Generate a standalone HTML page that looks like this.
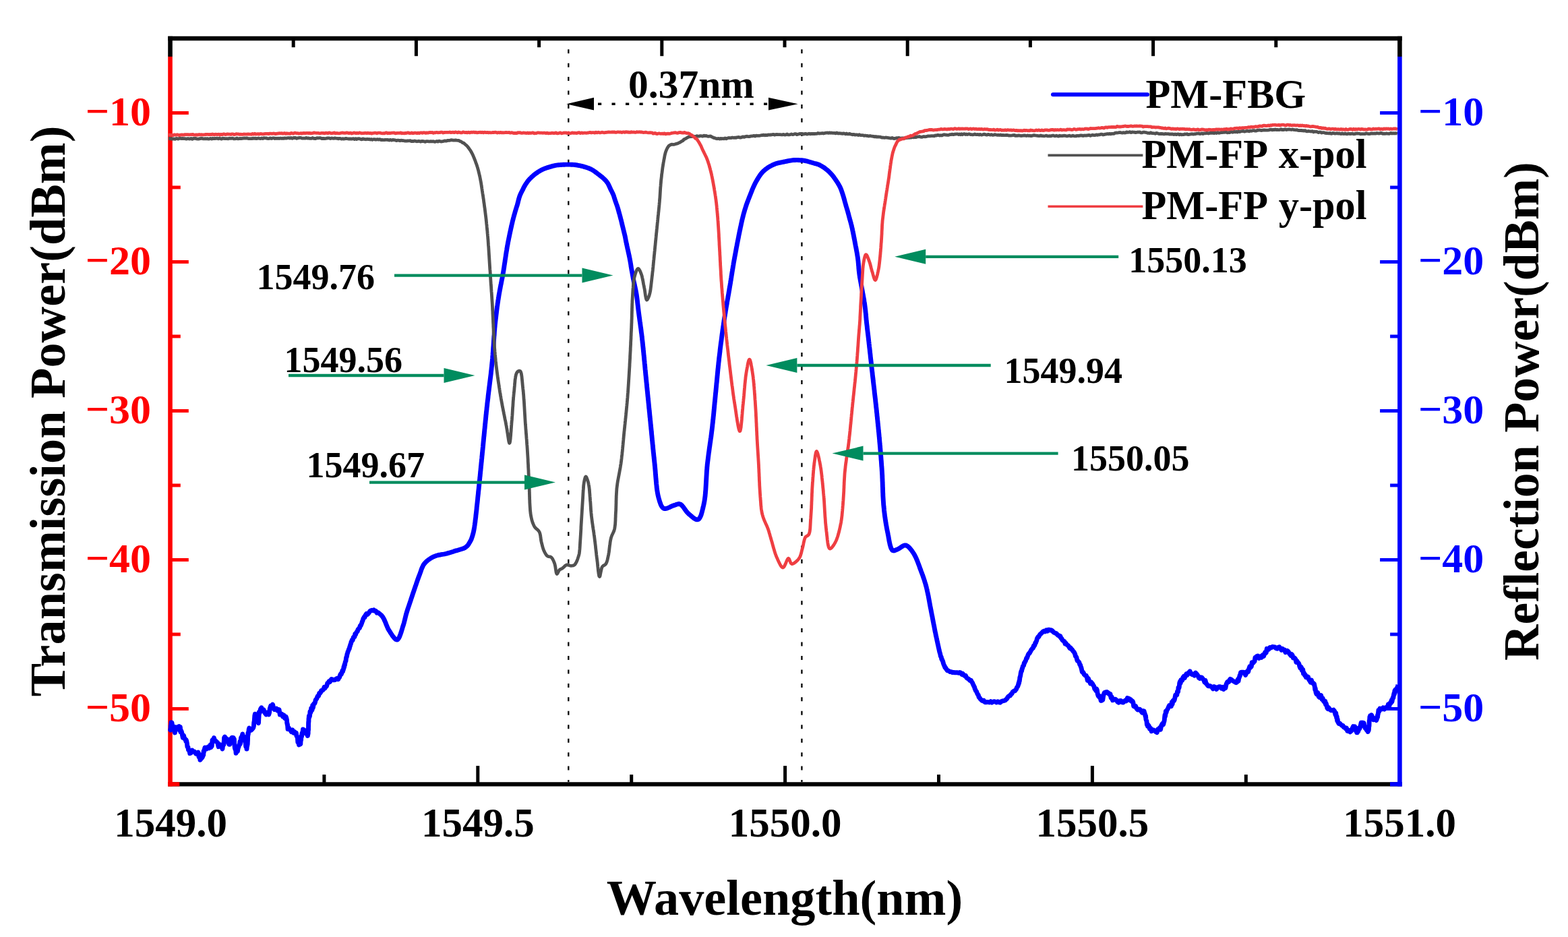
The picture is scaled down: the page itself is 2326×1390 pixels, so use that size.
<!DOCTYPE html><html><head><meta charset="utf-8"><style>html,body{margin:0;padding:0;background:#fff;overflow:hidden;}svg{display:block;}text{font-family:"Liberation Serif","Times New Roman",serif;font-weight:bold;}</style></head><body>
<svg width="2326" height="1390" viewBox="0 0 2326 1390">
<rect width="2326" height="1390" fill="#fff"/>
<line x1="843.3" y1="73.2" x2="843.3" y2="1160.0" stroke="#000" stroke-width="2.3" stroke-dasharray="6 14.45"/>
<line x1="1189.4" y1="73.2" x2="1189.4" y2="1160.0" stroke="#000" stroke-width="2.3" stroke-dasharray="6 14.45"/>
<g stroke-linecap="butt">
<line x1="480.9" y1="1163.3" x2="480.9" y2="1149.1" stroke="#000" stroke-width="5"/>
<line x1="708.8" y1="1163.3" x2="708.8" y2="1136.1" stroke="#000" stroke-width="5"/>
<line x1="936.7" y1="1163.3" x2="936.7" y2="1149.1" stroke="#000" stroke-width="5"/>
<line x1="1164.6" y1="1163.3" x2="1164.6" y2="1136.1" stroke="#000" stroke-width="5"/>
<line x1="1392.5" y1="1163.3" x2="1392.5" y2="1149.1" stroke="#000" stroke-width="5"/>
<line x1="1620.4" y1="1163.3" x2="1620.4" y2="1136.1" stroke="#000" stroke-width="5"/>
<line x1="1848.3" y1="1163.3" x2="1848.3" y2="1149.1" stroke="#000" stroke-width="5"/>
<line x1="435.2" y1="57.0" x2="435.2" y2="70.2" stroke="#000" stroke-width="5"/>
<line x1="617.4" y1="57.0" x2="617.4" y2="83.2" stroke="#000" stroke-width="5"/>
<line x1="799.6" y1="57.0" x2="799.6" y2="70.2" stroke="#000" stroke-width="5"/>
<line x1="981.8" y1="57.0" x2="981.8" y2="83.2" stroke="#000" stroke-width="5"/>
<line x1="1164.0" y1="57.0" x2="1164.0" y2="70.2" stroke="#000" stroke-width="5"/>
<line x1="1346.2" y1="57.0" x2="1346.2" y2="83.2" stroke="#000" stroke-width="5"/>
<line x1="1528.4" y1="57.0" x2="1528.4" y2="70.2" stroke="#000" stroke-width="5"/>
<line x1="1710.6" y1="57.0" x2="1710.6" y2="83.2" stroke="#000" stroke-width="5"/>
<line x1="1892.8" y1="57.0" x2="1892.8" y2="70.2" stroke="#000" stroke-width="5"/>
<line x1="252.5" y1="167.5" x2="279.8" y2="167.5" stroke="#ff0000" stroke-width="5"/>
<line x1="252.5" y1="278.0" x2="267.8" y2="278.0" stroke="#ff0000" stroke-width="5"/>
<line x1="252.5" y1="388.5" x2="279.8" y2="388.5" stroke="#ff0000" stroke-width="5"/>
<line x1="252.5" y1="499.0" x2="267.8" y2="499.0" stroke="#ff0000" stroke-width="5"/>
<line x1="252.5" y1="609.5" x2="279.8" y2="609.5" stroke="#ff0000" stroke-width="5"/>
<line x1="252.5" y1="720.0" x2="267.8" y2="720.0" stroke="#ff0000" stroke-width="5"/>
<line x1="252.5" y1="830.5" x2="279.8" y2="830.5" stroke="#ff0000" stroke-width="5"/>
<line x1="252.5" y1="941.0" x2="267.8" y2="941.0" stroke="#ff0000" stroke-width="5"/>
<line x1="252.5" y1="1051.5" x2="279.8" y2="1051.5" stroke="#ff0000" stroke-width="5"/>
</g>
<line x1="249.2" y1="57.0" x2="2079.7" y2="57.0" stroke="#000" stroke-width="6.5"/>
<line x1="249.2" y1="1163.3" x2="2079.7" y2="1163.3" stroke="#000" stroke-width="6.2"/>
<line x1="252.5" y1="84.0" x2="252.5" y2="1166.4" stroke="#ff0000" stroke-width="6.6"/>
<line x1="249.2" y1="1163.3" x2="266.3" y2="1163.3" stroke="#ff0000" stroke-width="6.2"/>
<line x1="252.5" y1="53.8" x2="252.5" y2="84.0" stroke="#000" stroke-width="6.6"/>
<path d="M252.6 1084.7 L252.8 1081.6 L253.1 1083.1 L253.3 1076.8 L253.5 1078.1 L253.8 1075.2 L254.1 1071.8 L254.4 1074.6 L255.0 1072.2 L255.7 1077.3 L256.5 1076.9 L257.4 1079.0 L258.5 1083.3 L259.4 1087.0 L260.1 1080.6 L260.7 1078.8 L261.6 1079.7 L263.0 1080.9 L264.5 1078.0 L265.5 1077.5 L266.4 1083.3 L267.3 1078.4 L267.9 1085.8 L268.4 1083.5 L268.9 1084.4 L269.5 1086.0 L270.2 1089.0 L271.2 1094.2 L272.4 1090.9 L273.5 1095.1 L274.5 1097.0 L275.2 1096.6 L275.8 1099.6 L276.3 1097.9 L276.8 1099.7 L277.4 1102.6 L277.9 1107.6 L278.4 1107.6 L279.0 1108.7 L279.5 1112.5 L280.1 1113.1 L280.9 1113.3 L281.7 1117.6 L283.2 1117.0 L285.0 1113.0 L286.8 1115.0 L288.6 1115.0 L290.6 1118.2 L292.4 1118.1 L294.0 1116.2 L295.0 1122.8 L295.7 1118.8 L296.4 1123.2 L296.9 1127.4 L297.6 1123.8 L298.3 1125.7 L299.0 1121.2 L299.8 1124.0 L300.5 1122.7 L301.2 1119.5 L301.7 1120.2 L302.1 1114.4 L302.5 1115.4 L302.9 1112.9 L303.4 1111.1 L304.0 1108.9 L304.8 1110.7 L306.4 1111.1 L308.4 1108.1 L310.3 1109.8 L312.0 1105.1 L312.9 1108.7 L313.5 1106.6 L314.1 1107.1 L314.5 1103.8 L315.0 1098.0 L315.6 1097.4 L316.3 1098.8 L317.4 1094.6 L318.6 1099.2 L319.9 1098.9 L321.3 1100.5 L322.7 1101.5 L324.1 1107.7 L325.7 1104.3 L327.3 1106.1 L328.8 1107.6 L330.0 1111.0 L330.7 1104.5 L331.2 1105.7 L331.6 1104.5 L331.9 1104.7 L332.1 1102.0 L332.3 1100.2 L332.6 1094.2 L333.0 1093.9 L333.5 1093.0 L334.3 1097.3 L335.1 1099.3 L336.0 1095.5 L337.0 1097.9 L338.0 1100.4 L338.9 1101.9 L339.8 1104.3 L340.7 1104.4 L341.5 1100.4 L342.3 1096.3 L343.1 1096.9 L343.9 1094.4 L344.7 1094.2 L345.4 1096.3 L345.8 1094.9 L346.3 1094.6 L346.6 1096.6 L347.0 1098.8 L347.4 1096.6 L347.7 1104.6 L348.0 1106.1 L348.3 1109.2 L348.7 1111.0 L349.0 1110.5 L349.4 1112.5 L349.7 1112.3 L350.1 1117.2 L350.5 1114.2 L351.0 1114.6 L351.5 1115.3 L351.9 1114.2 L352.5 1114.3 L353.0 1110.8 L353.6 1108.7 L354.1 1107.7 L354.7 1105.2 L355.3 1104.7 L355.9 1100.1 L356.5 1103.6 L357.1 1099.6 L357.6 1094.4 L358.2 1093.3 L358.8 1092.4 L359.3 1091.4 L359.8 1089.0 L360.3 1093.7 L360.9 1095.0 L361.5 1092.5 L362.0 1094.3 L362.6 1093.5 L363.1 1095.9 L363.7 1099.8 L364.2 1101.4 L364.7 1107.3 L365.1 1104.3 L365.6 1104.4 L366.0 1111.1 L366.3 1107.9 L366.6 1104.6 L366.8 1106.2 L366.9 1101.3 L367.1 1103.0 L367.2 1104.2 L367.3 1101.3 L367.5 1098.0 L367.6 1092.8 L367.8 1091.3 L367.9 1087.8 L368.2 1089.8 L368.5 1086.3 L368.8 1086.3 L369.2 1081.9 L369.7 1080.1 L371.0 1082.9 L372.5 1083.3 L374.0 1081.8 L375.3 1080.3 L375.9 1079.1 L376.4 1076.9 L376.8 1071.4 L377.1 1071.1 L377.4 1067.7 L377.7 1063.2 L377.9 1061.0 L378.1 1060.8 L378.4 1059.2 L378.7 1061.2 L379.0 1062.6 L379.5 1059.7 L379.9 1064.5 L380.4 1067.0 L380.9 1069.1 L381.4 1067.5 L381.9 1068.7 L382.4 1070.2 L382.8 1070.5 L383.1 1070.3 L383.3 1072.2 L383.5 1072.7 L383.6 1070.5 L383.8 1066.1 L383.9 1065.1 L384.0 1063.8 L384.2 1056.7 L384.5 1058.4 L384.8 1058.2 L385.3 1055.8 L385.8 1054.4 L386.5 1051.9 L387.8 1049.8 L389.3 1054.7 L391.1 1052.9 L392.9 1057.5 L394.7 1059.9 L396.3 1056.9 L397.7 1057.0 L398.7 1059.9 L399.6 1056.9 L400.3 1051.2 L401.0 1048.9 L401.7 1047.1 L402.4 1050.8 L403.4 1049.5 L404.5 1045.1 L405.8 1050.4 L407.1 1052.6 L408.5 1051.7 L409.9 1051.1 L411.3 1053.9 L412.7 1052.4 L414.0 1052.6 L415.3 1060.1 L416.7 1059.0 L418.1 1059.2 L419.5 1063.0 L420.8 1060.8 L422.0 1064.9 L423.1 1065.9 L424.0 1063.0 L424.7 1064.8 L425.2 1066.8 L425.5 1068.2 L425.7 1072.4 L425.9 1072.0 L426.2 1074.9 L426.5 1074.7 L427.0 1081.5 L427.7 1079.0 L429.0 1081.0 L430.5 1082.7 L432.2 1085.6 L433.9 1083.0 L435.6 1087.3 L437.0 1085.7 L437.8 1087.2 L438.6 1088.7 L439.3 1087.1 L440.0 1092.0 L440.7 1092.4 L441.3 1093.3 L441.8 1100.7 L442.4 1098.3 L442.9 1101.9 L443.5 1104.9 L444.0 1104.5 L444.5 1103.2 L445.0 1104.2 L445.4 1103.5 L445.8 1103.7 L446.1 1097.3 L446.5 1098.3 L446.8 1094.0 L447.2 1091.8 L447.5 1092.8 L447.8 1088.8 L448.2 1087.1 L448.6 1086.6 L449.0 1086.2 L449.5 1082.0 L450.0 1082.8 L451.1 1082.7 L452.3 1084.7 L453.5 1088.2 L454.7 1088.5 L455.7 1089.7 L456.1 1089.1 L456.4 1091.6 L456.7 1089.1 L456.9 1089.1 L457.1 1088.1 L457.2 1081.9 L457.4 1082.2 L457.5 1082.9 L457.5 1080.2 L457.6 1073.3 L457.7 1071.0 L457.9 1071.0 L458.0 1066.3 L458.2 1065.3 L458.4 1062.1 L458.7 1064.2 L459.1 1063.1 L459.5 1062.2 L460.0 1055.6 L460.5 1057.8 L461.1 1055.9 L461.7 1050.7 L462.3 1054.2 L463.0 1053.1 L463.7 1046.4 L464.4 1049.8 L465.2 1044.8 L465.9 1043.6 L466.7 1043.6 L467.5 1041.6 L468.3 1038.0 L469.0 1037.5 L469.8 1036.4 L470.5 1034.5 L471.2 1032.8 L471.9 1032.0 L472.6 1032.2 L473.7 1028.3 L474.7 1028.6 L475.7 1026.9 L476.7 1024.3 L477.7 1024.1 L478.8 1023.8 L480.0 1022.0 L481.0 1019.4 L482.1 1020.9 L483.3 1018.8 L484.5 1017.9 L485.7 1013.6 L486.9 1012.7 L488.2 1010.6 L489.4 1011.6 L490.7 1008.9 L491.8 1007.5 L493.0 1007.8 L495.0 1008.8 L496.9 1008.6 L498.8 1006.9 L500.6 1006.1 L501.7 1007.7 L502.7 1005.6 L503.7 1004.7 L504.6 1001.4 L505.5 999.7 L506.3 1000.1 L507.2 997.5 L508.0 994.6 L508.5 996.2 L509.0 993.9 L509.5 993.0 L510.0 989.3 L510.5 990.2 L510.9 986.1 L511.3 987.1 L511.8 984.1 L512.2 982.1 L512.6 981.1 L513.0 980.6 L513.4 976.9 L513.8 974.8 L514.3 974.5 L514.7 972.0 L515.1 970.0 L515.6 968.7 L516.1 966.7 L516.7 965.5 L517.2 964.2 L517.7 962.6 L518.2 962.5 L518.8 959.4 L519.3 958.5 L519.9 955.9 L520.5 954.9 L521.0 952.3 L521.7 951.5 L522.3 949.2 L523.0 949.9 L523.7 947.9 L524.4 945.2 L525.2 944.6 L526.0 944.6 L526.8 940.4 L527.6 941.2 L528.5 938.5 L529.3 937.2 L530.2 936.8 L531.0 934.0 L531.9 932.9 L532.7 932.0 L533.5 931.5 L534.3 928.1 L535.1 928.2 L535.9 926.2 L536.6 924.5 L537.3 922.2 L538.1 920.5 L538.8 918.0 L539.5 916.8 L540.3 915.2 L541.0 916.0 L541.9 913.2 L542.7 911.8 L543.6 910.5 L544.8 911.6 L546.1 910.5 L547.4 908.8 L548.8 906.6 L550.2 905.7 L551.6 905.3 L553.1 905.7 L554.5 904.8 L555.9 906.1 L557.4 906.1 L559.0 909.1 L560.5 908.5 L562.0 909.6 L563.5 910.8 L564.9 912.0 L566.2 913.3 L567.1 914.4 L568.0 915.6 L568.8 917.0 L569.6 918.4 L570.3 920.0 L571.0 921.6 L571.7 923.2 L572.4 924.9 L573.0 926.6 L573.7 928.2 L574.4 929.9 L575.1 931.4 L575.8 933.0 L576.6 934.4 L577.4 935.7 L578.4 937.2 L579.4 938.8 L580.5 940.5 L581.6 942.2 L582.7 943.8 L583.9 945.2 L585.0 946.6 L586.0 947.6 L587.1 948.5 L588.1 948.9 L589.0 949.0 L589.8 948.7 L590.6 947.9 L591.4 946.9 L592.1 945.6 L592.9 944.0 L593.5 942.2 L594.2 940.4 L594.9 938.4 L595.5 936.4 L596.1 934.4 L596.7 932.5 L597.2 930.6 L597.8 929.0 L598.3 927.4 L598.8 925.8 L599.3 924.1 L599.7 922.5 L600.1 920.9 L600.5 919.3 L600.9 917.6 L601.3 916.0 L601.7 914.4 L602.1 912.7 L602.5 911.1 L603.0 909.5 L603.5 907.9 L604.0 906.2 L604.5 904.6 L605.0 903.0 L605.6 901.4 L606.1 899.7 L606.7 898.1 L607.2 896.5 L607.8 894.9 L608.3 893.2 L608.9 891.6 L609.4 890.0 L609.9 888.4 L610.5 886.8 L611.0 885.2 L611.6 883.5 L612.1 881.9 L612.6 880.3 L613.2 878.7 L613.7 877.1 L614.3 875.5 L614.8 873.9 L615.4 872.3 L615.9 870.7 L616.4 869.2 L617.0 867.6 L617.5 866.1 L618.0 864.5 L618.6 863.0 L619.1 861.5 L619.6 859.9 L620.2 858.4 L620.7 856.9 L621.3 855.4 L621.8 854.0 L622.4 852.5 L623.0 850.9 L623.6 849.2 L624.2 847.6 L624.7 845.9 L625.3 844.3 L625.9 842.7 L626.6 841.2 L627.3 839.7 L628.0 838.3 L628.9 837.0 L630.0 835.6 L631.2 834.3 L632.4 833.1 L633.8 831.9 L635.1 830.8 L636.5 829.8 L637.9 828.9 L639.2 828.0 L640.7 827.1 L642.1 826.4 L643.6 825.7 L645.1 825.1 L646.7 824.5 L648.3 824.0 L649.8 823.6 L651.3 823.2 L653.0 823.0 L654.6 822.7 L656.3 822.4 L657.9 822.2 L659.6 821.9 L661.2 821.5 L662.8 821.1 L664.4 820.6 L666.0 820.2 L667.6 819.7 L669.2 819.2 L670.8 818.7 L672.5 818.2 L674.2 817.6 L675.7 817.1 L677.3 816.7 L678.9 816.3 L680.6 815.8 L682.2 815.3 L683.9 814.8 L685.5 814.3 L687.0 813.8 L688.5 813.1 L689.8 812.5 L691.0 811.7 L692.4 810.5 L693.7 809.2 L694.8 807.8 L695.7 806.3 L696.6 804.8 L697.5 803.3 L698.3 801.7 L699.1 800.1 L699.7 798.4 L700.3 796.6 L700.9 794.8 L701.4 793.0 L701.8 791.5 L702.2 790.1 L702.5 788.7 L702.8 787.2 L703.1 785.6 L703.4 783.9 L703.7 782.1 L704.0 780.0 L704.2 778.9 L704.3 777.7 L704.5 776.5 L704.7 775.2 L704.9 773.9 L705.0 772.5 L705.2 771.1 L705.4 769.6 L705.6 768.1 L705.8 766.5 L705.9 764.9 L706.1 763.3 L706.3 761.6 L706.5 759.9 L706.7 758.2 L706.9 756.5 L707.1 754.7 L707.2 752.9 L707.4 751.2 L707.6 749.4 L707.8 747.6 L708.0 745.8 L708.2 744.0 L708.4 742.2 L708.6 740.4 L708.7 738.6 L708.9 736.8 L709.1 735.0 L709.3 733.3 L709.5 731.5 L709.6 729.8 L709.8 728.2 L710.0 726.5 L710.2 724.9 L710.3 723.3 L710.5 721.6 L710.7 720.0 L710.8 718.4 L711.0 716.8 L711.2 715.2 L711.3 713.6 L711.5 712.0 L711.7 710.4 L711.8 708.7 L712.0 707.1 L712.2 705.5 L712.3 703.9 L712.5 702.3 L712.6 700.7 L712.8 699.0 L713.0 697.4 L713.1 695.8 L713.3 694.2 L713.4 692.5 L713.6 690.9 L713.8 689.2 L713.9 687.6 L714.1 685.9 L714.3 684.3 L714.4 682.6 L714.6 681.0 L714.8 679.3 L714.9 677.6 L715.1 675.9 L715.3 674.2 L715.4 672.5 L715.6 670.8 L715.8 669.3 L715.9 667.7 L716.1 666.2 L716.2 664.7 L716.4 663.1 L716.5 661.6 L716.7 660.0 L716.8 658.4 L717.0 656.8 L717.1 655.3 L717.3 653.7 L717.4 652.1 L717.6 650.5 L717.7 648.9 L717.9 647.3 L718.1 645.7 L718.2 644.1 L718.4 642.5 L718.5 640.9 L718.7 639.3 L718.8 637.7 L719.0 636.1 L719.2 634.4 L719.3 632.8 L719.5 631.2 L719.6 629.6 L719.8 628.0 L720.0 626.4 L720.1 624.7 L720.3 623.1 L720.5 621.5 L720.6 619.9 L720.8 618.3 L720.9 616.6 L721.1 615.0 L721.3 613.4 L721.4 611.8 L721.6 610.2 L721.8 608.6 L722.0 607.0 L722.1 605.4 L722.3 603.8 L722.5 602.2 L722.7 600.6 L722.8 599.0 L723.0 597.4 L723.2 595.8 L723.4 594.2 L723.6 592.6 L723.8 591.0 L724.0 589.4 L724.1 587.7 L724.3 586.1 L724.5 584.5 L724.7 582.9 L724.9 581.3 L725.1 579.7 L725.3 578.1 L725.5 576.4 L725.7 574.8 L725.9 573.2 L726.1 571.6 L726.3 570.0 L726.5 568.4 L726.7 566.8 L726.9 565.2 L727.1 563.6 L727.3 562.0 L727.5 560.4 L727.7 558.8 L727.9 557.2 L728.1 555.6 L728.3 554.0 L728.4 552.5 L728.6 550.9 L728.8 549.3 L729.0 547.7 L729.1 546.2 L729.3 544.6 L729.5 543.1 L729.6 541.5 L729.8 540.0 L729.9 538.4 L730.1 536.9 L730.3 535.2 L730.4 533.5 L730.6 531.8 L730.7 530.2 L730.8 528.5 L731.0 526.8 L731.1 525.1 L731.2 523.4 L731.4 521.8 L731.5 520.1 L731.6 518.4 L731.7 516.8 L731.8 515.1 L732.0 513.4 L732.1 511.8 L732.2 510.1 L732.3 508.5 L732.4 506.9 L732.5 505.2 L732.6 503.6 L732.7 502.0 L732.8 500.4 L732.9 498.8 L733.1 497.2 L733.2 495.6 L733.3 494.0 L733.4 492.4 L733.5 490.9 L733.7 489.3 L733.8 487.8 L733.9 486.2 L734.1 484.7 L734.2 483.2 L734.3 481.7 L734.5 480.2 L734.7 478.4 L734.9 476.7 L735.1 474.9 L735.3 473.2 L735.5 471.5 L735.7 469.8 L735.9 468.1 L736.1 466.4 L736.3 464.8 L736.5 463.1 L736.7 461.4 L736.9 459.8 L737.1 458.2 L737.3 456.6 L737.5 454.9 L737.8 453.3 L738.0 451.7 L738.2 450.1 L738.5 448.6 L738.7 447.0 L738.9 445.4 L739.2 443.8 L739.4 442.2 L739.7 440.7 L739.9 439.1 L740.2 437.4 L740.5 435.7 L740.8 434.0 L741.1 432.4 L741.4 430.7 L741.7 429.1 L742.0 427.5 L742.3 425.9 L742.6 424.3 L742.9 422.6 L743.3 421.0 L743.6 419.4 L743.9 417.8 L744.2 416.2 L744.5 414.6 L744.9 413.0 L745.2 411.3 L745.5 409.7 L745.8 408.0 L746.1 406.3 L746.4 404.6 L746.7 403.1 L746.9 401.6 L747.2 400.0 L747.4 398.5 L747.7 396.9 L747.9 395.3 L748.1 393.7 L748.4 392.1 L748.6 390.5 L748.9 388.9 L749.1 387.3 L749.3 385.7 L749.6 384.1 L749.8 382.5 L750.1 380.9 L750.3 379.3 L750.5 377.7 L750.8 376.1 L751.0 374.5 L751.3 372.9 L751.6 371.3 L751.8 369.7 L752.1 368.1 L752.3 366.6 L752.6 365.0 L752.9 363.5 L753.2 361.9 L753.5 360.2 L753.8 358.5 L754.2 356.8 L754.5 355.2 L754.8 353.5 L755.2 351.8 L755.5 350.1 L755.9 348.4 L756.2 346.7 L756.6 345.1 L756.9 343.4 L757.3 341.8 L757.6 340.2 L758.0 338.6 L758.3 337.0 L758.7 335.5 L759.0 334.0 L759.3 332.6 L759.7 331.2 L760.0 329.8 L760.3 328.5 L760.6 327.2 L761.1 325.4 L761.5 323.6 L762.0 321.9 L762.4 320.3 L762.8 318.8 L763.3 317.3 L763.7 315.8 L764.1 314.4 L764.5 313.0 L764.9 311.7 L765.5 309.8 L766.0 308.1 L766.5 306.5 L767.1 304.8 L767.6 303.0 L768.0 301.5 L768.4 300.0 L768.8 298.3 L769.2 296.7 L769.7 295.0 L770.1 293.4 L770.6 291.9 L771.1 290.4 L771.9 288.5 L772.7 286.8 L773.5 285.1 L774.4 283.4 L775.2 281.8 L776.0 280.3 L776.7 278.7 L777.5 277.2 L778.3 275.8 L779.2 274.3 L780.1 272.8 L781.1 271.4 L782.1 269.9 L783.1 268.5 L784.2 267.2 L785.3 265.9 L786.5 264.7 L787.8 263.5 L789.0 262.3 L790.3 261.2 L791.5 260.1 L792.8 259.1 L794.1 258.1 L795.4 257.1 L796.8 256.1 L798.1 255.2 L799.5 254.3 L800.9 253.5 L802.4 252.6 L803.9 251.8 L805.4 251.1 L807.0 250.4 L808.7 249.8 L810.4 249.2 L812.1 248.6 L813.8 248.1 L815.5 247.6 L817.2 247.1 L818.8 246.6 L820.5 246.2 L822.1 245.8 L823.8 245.4 L825.5 245.1 L827.2 244.9 L828.9 244.7 L830.5 244.6 L832.2 244.5 L833.9 244.4 L835.6 244.3 L837.3 244.2 L839.0 244.1 L840.6 244.1 L842.3 244.1 L844.0 244.1 L845.7 244.1 L847.4 244.2 L849.1 244.3 L850.9 244.4 L852.6 244.5 L854.3 244.7 L856.1 245.0 L857.7 245.3 L859.3 245.6 L860.9 245.9 L862.5 246.3 L864.1 246.7 L865.7 247.1 L867.3 247.6 L869.1 248.1 L870.8 248.7 L872.6 249.3 L874.3 250.0 L876.0 250.7 L877.6 251.5 L879.1 252.4 L880.6 253.3 L882.0 254.3 L883.5 255.4 L884.9 256.4 L886.3 257.5 L887.6 258.5 L888.9 259.4 L890.2 260.4 L891.5 261.4 L892.8 262.4 L894.0 263.5 L895.1 264.5 L896.4 265.7 L897.7 267.0 L898.8 268.2 L899.9 269.6 L901.0 271.0 L901.9 272.4 L902.7 274.0 L903.5 275.6 L904.2 277.3 L905.0 278.9 L905.7 280.5 L906.4 282.0 L907.2 283.4 L907.9 284.9 L908.6 286.4 L909.3 287.8 L909.9 289.3 L910.6 291.1 L911.1 292.8 L911.7 294.6 L912.2 296.4 L912.8 298.1 L913.4 299.7 L913.9 301.1 L914.4 302.6 L915.0 304.2 L915.6 306.0 L916.0 307.3 L916.4 308.7 L916.9 310.2 L917.3 311.8 L917.8 313.4 L918.2 315.1 L918.7 316.7 L919.2 318.4 L919.6 320.0 L920.0 321.5 L920.4 323.0 L920.8 324.7 L921.3 326.3 L921.7 328.0 L922.1 329.6 L922.4 331.1 L922.8 332.7 L923.2 334.3 L923.6 335.9 L924.0 337.5 L924.4 339.1 L924.8 340.8 L925.2 342.4 L925.6 344.0 L926.0 345.6 L926.4 347.3 L926.8 348.9 L927.2 350.5 L927.5 352.1 L927.8 353.7 L928.1 355.3 L928.4 357.0 L928.7 358.6 L929.1 360.2 L929.4 361.8 L929.8 363.4 L930.1 365.0 L930.5 366.7 L930.8 368.3 L931.2 369.9 L931.6 371.6 L931.9 373.2 L932.3 374.8 L932.6 376.4 L933.0 378.0 L933.3 379.7 L933.7 381.3 L934.0 382.9 L934.3 384.5 L934.6 386.1 L934.9 387.7 L935.2 389.5 L935.5 391.2 L935.8 392.9 L936.0 394.6 L936.3 396.4 L936.6 398.2 L936.9 400.0 L937.2 401.5 L937.5 403.1 L937.8 404.7 L938.1 406.4 L938.4 408.0 L938.7 409.7 L939.0 411.4 L939.3 413.1 L939.7 414.8 L940.0 416.5 L940.3 418.1 L940.6 419.6 L941.0 421.2 L941.3 422.7 L941.7 424.3 L942.0 425.9 L942.4 427.5 L942.7 429.2 L943.1 430.8 L943.4 432.5 L943.7 434.2 L944.0 435.9 L944.2 437.4 L944.5 438.9 L944.7 440.4 L944.9 442.0 L945.1 443.5 L945.3 445.1 L945.5 446.7 L945.6 448.3 L945.8 449.9 L946.0 451.5 L946.2 453.2 L946.4 454.9 L946.6 456.6 L946.8 458.3 L947.0 460.0 L947.2 461.8 L947.4 463.3 L947.6 464.7 L947.8 466.2 L948.0 467.7 L948.2 469.2 L948.4 470.7 L948.6 472.2 L948.8 473.7 L949.0 475.3 L949.2 476.8 L949.5 478.4 L949.7 480.0 L949.9 481.6 L950.1 483.2 L950.3 484.9 L950.6 486.5 L950.8 488.2 L951.0 489.8 L951.2 491.5 L951.4 493.3 L951.7 495.0 L951.9 496.7 L952.1 498.5 L952.3 500.3 L952.5 501.7 L952.6 503.2 L952.8 504.7 L953.0 506.2 L953.1 507.7 L953.3 509.3 L953.5 510.8 L953.6 512.4 L953.8 514.0 L954.0 515.6 L954.1 517.2 L954.3 518.8 L954.4 520.4 L954.6 522.1 L954.8 523.7 L954.9 525.4 L955.1 527.0 L955.3 528.7 L955.4 530.4 L955.6 532.1 L955.7 533.7 L955.9 535.4 L956.1 537.1 L956.2 538.8 L956.4 540.5 L956.6 542.2 L956.7 543.9 L956.9 545.6 L957.0 547.3 L957.2 549.0 L957.4 550.7 L957.5 552.4 L957.7 554.0 L957.8 555.7 L958.0 557.4 L958.2 559.0 L958.3 560.7 L958.5 562.3 L958.7 563.9 L958.8 565.6 L959.0 567.2 L959.2 568.8 L959.3 570.4 L959.5 572.1 L959.6 573.7 L959.8 575.3 L960.0 577.0 L960.1 578.6 L960.3 580.2 L960.5 581.9 L960.6 583.5 L960.8 585.1 L960.9 586.7 L961.1 588.4 L961.3 590.0 L961.4 591.6 L961.6 593.3 L961.8 594.9 L961.9 596.5 L962.1 598.1 L962.3 599.8 L962.4 601.4 L962.6 603.0 L962.7 604.7 L962.9 606.3 L963.1 607.9 L963.2 609.5 L963.4 611.2 L963.6 612.8 L963.7 614.4 L963.9 616.1 L964.0 617.7 L964.2 619.3 L964.4 620.9 L964.5 622.6 L964.7 624.2 L964.9 625.8 L965.0 627.5 L965.2 629.1 L965.3 630.7 L965.5 632.4 L965.7 634.0 L965.8 635.7 L966.0 637.3 L966.2 639.0 L966.3 640.6 L966.5 642.3 L966.6 643.9 L966.8 645.6 L967.0 647.2 L967.1 648.9 L967.3 650.5 L967.4 652.2 L967.6 653.8 L967.8 655.5 L967.9 657.1 L968.1 658.8 L968.3 660.4 L968.4 662.0 L968.6 663.7 L968.7 665.3 L968.9 666.9 L969.1 668.5 L969.2 670.2 L969.4 671.8 L969.6 673.4 L969.7 675.0 L969.9 676.6 L970.1 678.2 L970.2 679.8 L970.4 681.4 L970.6 683.0 L970.7 684.5 L970.9 686.1 L971.1 687.8 L971.2 689.5 L971.4 691.2 L971.6 692.9 L971.7 694.6 L971.9 696.4 L972.0 698.1 L972.2 699.9 L972.3 701.7 L972.4 703.4 L972.6 705.2 L972.7 706.9 L972.9 708.7 L973.0 710.4 L973.2 712.2 L973.3 713.9 L973.5 715.6 L973.6 717.3 L973.8 719.0 L974.0 720.6 L974.1 722.2 L974.3 723.8 L974.5 725.4 L974.7 726.9 L974.9 728.4 L975.2 729.8 L975.4 731.3 L975.7 732.6 L975.9 734.0 L976.2 735.2 L976.5 736.5 L976.8 737.7 L977.1 738.8 L977.7 740.9 L978.3 742.9 L978.9 744.9 L979.6 746.8 L980.2 748.5 L981.0 750.1 L981.8 751.5 L982.7 752.7 L983.7 753.6 L984.8 754.3 L986.2 754.6 L987.7 754.5 L989.4 754.1 L991.2 753.4 L993.1 752.6 L994.9 751.7 L996.7 750.8 L998.4 750.1 L1000.0 749.6 L1001.9 749.0 L1003.7 748.3 L1005.4 747.8 L1007.1 747.5 L1008.8 747.8 L1009.9 748.4 L1011.0 749.2 L1012.1 750.4 L1013.2 751.7 L1014.3 753.1 L1015.4 754.7 L1016.5 756.3 L1017.6 757.9 L1018.8 759.4 L1020.0 760.7 L1021.2 761.9 L1022.5 763.1 L1024.0 764.3 L1025.5 765.6 L1027.0 766.9 L1028.5 768.1 L1030.0 769.2 L1031.5 770.0 L1032.8 770.6 L1034.1 770.9 L1035.3 770.7 L1036.2 770.3 L1037.0 769.6 L1037.7 768.7 L1038.4 767.5 L1039.1 766.2 L1039.7 764.8 L1040.3 763.2 L1040.8 761.4 L1041.3 759.6 L1041.8 757.7 L1042.3 755.7 L1042.8 753.7 L1043.2 751.7 L1043.7 749.8 L1044.1 747.8 L1044.4 746.6 L1044.6 745.3 L1044.9 743.9 L1045.1 742.6 L1045.3 741.2 L1045.5 739.7 L1045.7 738.2 L1045.9 736.7 L1046.1 735.2 L1046.2 733.6 L1046.4 732.0 L1046.5 730.4 L1046.6 728.8 L1046.8 727.1 L1046.9 725.4 L1047.0 723.7 L1047.1 722.0 L1047.2 720.3 L1047.3 718.6 L1047.4 716.8 L1047.5 715.1 L1047.6 713.3 L1047.7 711.6 L1047.8 709.8 L1047.9 708.1 L1048.0 706.3 L1048.1 704.6 L1048.2 702.9 L1048.3 701.1 L1048.4 699.4 L1048.5 697.7 L1048.7 696.0 L1048.8 694.4 L1048.9 692.7 L1049.1 691.1 L1049.2 689.5 L1049.4 687.9 L1049.6 686.2 L1049.8 684.6 L1050.0 683.0 L1050.2 681.3 L1050.4 679.7 L1050.6 678.1 L1050.8 676.5 L1051.0 674.8 L1051.2 673.2 L1051.4 671.6 L1051.7 670.0 L1051.9 668.4 L1052.1 666.8 L1052.3 665.2 L1052.5 663.6 L1052.8 662.0 L1053.0 660.4 L1053.2 658.9 L1053.4 657.3 L1053.7 655.7 L1053.9 654.1 L1054.1 652.5 L1054.3 650.9 L1054.6 649.3 L1054.8 647.8 L1055.0 646.2 L1055.2 644.6 L1055.4 643.0 L1055.6 641.4 L1055.8 639.8 L1056.0 638.2 L1056.2 636.6 L1056.4 635.0 L1056.6 633.4 L1056.8 631.8 L1056.9 630.2 L1057.1 628.6 L1057.3 627.0 L1057.5 625.4 L1057.6 623.8 L1057.8 622.2 L1058.0 620.6 L1058.1 619.0 L1058.3 617.4 L1058.5 615.8 L1058.6 614.2 L1058.8 612.6 L1058.9 611.0 L1059.1 609.4 L1059.2 607.8 L1059.4 606.2 L1059.5 604.5 L1059.7 602.9 L1059.8 601.3 L1060.0 599.7 L1060.1 598.1 L1060.3 596.5 L1060.5 594.9 L1060.6 593.3 L1060.8 591.7 L1060.9 590.1 L1061.1 588.5 L1061.2 586.9 L1061.4 585.3 L1061.5 583.7 L1061.7 582.1 L1061.9 580.5 L1062.0 578.9 L1062.2 577.3 L1062.3 575.7 L1062.5 574.1 L1062.6 572.5 L1062.8 570.9 L1062.9 569.3 L1063.1 567.7 L1063.3 566.1 L1063.4 564.5 L1063.6 562.9 L1063.7 561.3 L1063.9 559.7 L1064.0 558.0 L1064.2 556.4 L1064.3 554.8 L1064.5 553.2 L1064.6 551.6 L1064.8 550.0 L1064.9 548.4 L1065.1 546.8 L1065.3 545.2 L1065.4 543.6 L1065.6 542.0 L1065.8 540.4 L1065.9 538.8 L1066.1 537.2 L1066.3 535.6 L1066.5 534.0 L1066.6 532.4 L1066.8 530.8 L1067.0 529.2 L1067.2 527.6 L1067.4 526.0 L1067.6 524.4 L1067.8 522.8 L1068.0 521.2 L1068.1 519.6 L1068.3 518.0 L1068.5 516.4 L1068.7 514.8 L1068.9 513.2 L1069.1 511.6 L1069.3 510.0 L1069.5 508.3 L1069.8 506.7 L1070.0 505.1 L1070.2 503.5 L1070.4 501.9 L1070.6 500.3 L1070.8 498.7 L1071.0 497.1 L1071.2 495.5 L1071.5 493.9 L1071.7 492.3 L1071.9 490.7 L1072.1 489.1 L1072.4 487.5 L1072.6 485.9 L1072.8 484.3 L1073.1 482.7 L1073.3 481.1 L1073.5 479.5 L1073.8 477.9 L1074.0 476.3 L1074.2 474.7 L1074.5 473.1 L1074.7 471.5 L1075.0 469.8 L1075.3 468.2 L1075.5 466.6 L1075.8 465.0 L1076.1 463.3 L1076.3 461.7 L1076.6 460.1 L1076.9 458.4 L1077.1 456.8 L1077.4 455.2 L1077.7 453.5 L1078.0 451.9 L1078.3 450.3 L1078.5 448.7 L1078.8 447.0 L1079.1 445.4 L1079.4 443.8 L1079.7 442.2 L1079.9 440.6 L1080.2 439.0 L1080.5 437.4 L1080.8 435.8 L1081.1 434.2 L1081.3 432.7 L1081.6 431.1 L1081.9 429.5 L1082.1 428.0 L1082.4 426.4 L1082.6 424.9 L1082.9 423.4 L1083.2 421.7 L1083.5 420.0 L1083.7 418.3 L1084.0 416.7 L1084.3 415.1 L1084.5 413.4 L1084.8 411.8 L1085.0 410.2 L1085.3 408.6 L1085.5 407.1 L1085.8 405.5 L1086.0 403.9 L1086.3 402.3 L1086.5 400.7 L1086.8 399.2 L1087.1 397.6 L1087.3 396.0 L1087.6 394.4 L1087.9 392.8 L1088.1 391.2 L1088.4 389.5 L1088.7 387.9 L1089.0 386.2 L1089.3 384.5 L1089.6 382.8 L1089.9 381.1 L1090.2 379.6 L1090.5 378.0 L1090.8 376.5 L1091.1 374.9 L1091.4 373.2 L1091.7 371.6 L1092.0 369.9 L1092.3 368.2 L1092.6 366.5 L1093.0 364.7 L1093.3 363.0 L1093.6 361.2 L1094.0 359.5 L1094.3 357.7 L1094.7 356.0 L1095.0 354.2 L1095.4 352.5 L1095.7 350.7 L1096.0 349.0 L1096.4 347.3 L1096.7 345.6 L1097.1 343.9 L1097.4 342.2 L1097.8 340.6 L1098.1 339.0 L1098.4 337.4 L1098.8 335.9 L1099.1 334.4 L1099.4 332.9 L1099.7 331.5 L1100.0 330.1 L1100.3 328.7 L1100.6 327.4 L1100.9 326.2 L1101.2 325.0 L1101.7 322.9 L1102.2 321.0 L1102.6 319.2 L1103.1 317.5 L1103.5 315.9 L1104.0 314.4 L1104.4 312.8 L1104.8 311.3 L1105.3 309.8 L1105.8 308.3 L1106.3 306.7 L1106.9 305.0 L1107.4 303.3 L1108.0 301.7 L1108.6 300.0 L1109.3 298.4 L1109.9 296.7 L1110.5 295.1 L1111.1 293.5 L1111.8 291.9 L1112.4 290.3 L1113.1 288.6 L1113.7 286.9 L1114.4 285.3 L1115.0 283.6 L1115.7 282.0 L1116.3 280.4 L1117.0 278.8 L1117.7 277.2 L1118.4 275.7 L1119.2 274.0 L1120.0 272.4 L1120.9 270.7 L1121.7 269.2 L1122.6 267.6 L1123.5 266.1 L1124.4 264.6 L1125.3 263.2 L1126.2 261.7 L1127.2 260.3 L1128.1 258.9 L1129.2 257.6 L1130.2 256.3 L1131.3 255.1 L1132.6 253.8 L1134.0 252.6 L1135.4 251.4 L1136.9 250.3 L1138.4 249.2 L1139.9 248.2 L1141.3 247.3 L1142.7 246.5 L1144.1 245.8 L1145.6 245.0 L1147.1 244.3 L1148.6 243.7 L1150.2 243.1 L1151.7 242.6 L1153.3 242.1 L1154.9 241.7 L1156.5 241.3 L1158.2 241.0 L1159.8 240.7 L1161.5 240.3 L1163.1 240.0 L1164.7 239.7 L1166.4 239.3 L1168.0 239.0 L1169.7 238.7 L1171.3 238.4 L1173.0 238.1 L1174.5 237.9 L1176.0 237.7 L1177.8 237.5 L1179.5 237.5 L1181.2 237.4 L1182.8 237.4 L1184.6 237.5 L1186.1 237.6 L1187.7 237.7 L1189.3 237.8 L1191.0 238.0 L1192.6 238.2 L1194.2 238.5 L1195.8 238.8 L1197.6 239.2 L1199.3 239.7 L1201.0 240.2 L1202.8 240.8 L1204.4 241.3 L1206.1 241.8 L1207.9 242.3 L1209.6 242.7 L1211.3 243.1 L1213.0 243.6 L1214.7 244.3 L1216.3 245.0 L1217.9 245.9 L1219.5 246.8 L1221.0 247.8 L1222.6 248.8 L1224.1 249.9 L1225.4 250.9 L1226.7 251.9 L1227.9 253.0 L1229.2 254.1 L1230.4 255.3 L1231.5 256.5 L1232.7 257.7 L1233.7 258.9 L1234.8 260.1 L1235.8 261.4 L1236.8 262.7 L1237.7 264.0 L1238.7 265.3 L1239.6 266.7 L1240.5 268.0 L1241.4 269.4 L1242.4 270.9 L1243.3 272.3 L1244.1 273.8 L1245.0 275.3 L1245.8 276.8 L1246.5 278.3 L1247.2 279.9 L1247.9 281.6 L1248.5 283.3 L1249.1 285.1 L1249.7 286.8 L1250.2 288.6 L1250.8 290.3 L1251.3 292.0 L1251.8 293.7 L1252.3 295.5 L1252.8 297.2 L1253.2 298.9 L1253.7 300.7 L1254.2 302.4 L1254.7 304.2 L1255.2 306.0 L1255.8 307.8 L1256.3 309.6 L1256.8 311.3 L1257.3 312.9 L1257.7 314.4 L1258.2 316.3 L1258.7 318.0 L1259.2 320.0 L1259.5 321.2 L1259.9 322.5 L1260.3 324.0 L1260.7 325.5 L1261.2 327.1 L1261.6 328.7 L1262.1 330.4 L1262.5 332.1 L1263.0 333.9 L1263.4 335.6 L1263.8 337.3 L1264.2 338.8 L1264.5 340.4 L1264.8 342.0 L1265.2 343.6 L1265.5 345.3 L1265.8 346.9 L1266.2 348.6 L1266.5 350.3 L1266.8 351.9 L1267.1 353.6 L1267.5 355.3 L1267.8 357.0 L1268.1 358.6 L1268.4 360.3 L1268.7 361.9 L1269.0 363.6 L1269.3 365.2 L1269.7 366.9 L1270.0 368.5 L1270.3 370.1 L1270.6 371.8 L1270.9 373.4 L1271.2 375.1 L1271.5 376.7 L1271.7 378.4 L1272.0 380.0 L1272.3 381.7 L1272.5 383.3 L1272.7 384.9 L1272.9 386.6 L1273.1 388.2 L1273.2 389.9 L1273.4 391.5 L1273.5 393.2 L1273.7 394.8 L1273.8 396.5 L1273.9 398.2 L1274.1 399.8 L1274.2 401.5 L1274.4 403.1 L1274.6 404.8 L1274.8 406.4 L1275.0 408.0 L1275.3 409.7 L1275.5 411.3 L1275.8 413.0 L1276.1 414.6 L1276.4 416.3 L1276.7 417.9 L1277.0 419.6 L1277.3 421.2 L1277.6 422.8 L1277.9 424.5 L1278.2 426.1 L1278.5 427.8 L1278.8 429.4 L1279.1 431.0 L1279.4 432.7 L1279.7 434.3 L1280.0 435.9 L1280.3 437.5 L1280.6 439.1 L1280.9 440.8 L1281.2 442.4 L1281.5 444.0 L1281.8 445.7 L1282.0 447.3 L1282.3 449.0 L1282.6 450.7 L1282.8 452.4 L1283.0 454.0 L1283.2 455.5 L1283.4 457.1 L1283.6 458.7 L1283.8 460.4 L1283.9 462.0 L1284.1 463.6 L1284.3 465.3 L1284.4 466.9 L1284.6 468.6 L1284.7 470.3 L1284.9 471.9 L1285.0 473.6 L1285.2 475.2 L1285.4 476.9 L1285.5 478.5 L1285.7 480.1 L1285.9 481.8 L1286.1 483.4 L1286.3 485.0 L1286.4 486.6 L1286.6 488.2 L1286.8 489.8 L1287.0 491.4 L1287.2 493.0 L1287.4 494.6 L1287.6 496.3 L1287.8 497.9 L1288.0 499.6 L1288.2 501.3 L1288.4 503.1 L1288.6 504.9 L1288.8 506.7 L1289.0 508.1 L1289.1 509.6 L1289.3 511.1 L1289.5 512.6 L1289.6 514.1 L1289.8 515.7 L1290.0 517.2 L1290.2 518.8 L1290.3 520.4 L1290.5 522.0 L1290.7 523.6 L1290.9 525.3 L1291.1 526.9 L1291.2 528.6 L1291.4 530.2 L1291.6 531.9 L1291.8 533.6 L1292.0 535.3 L1292.2 537.0 L1292.4 538.7 L1292.6 540.4 L1292.7 542.1 L1292.9 543.8 L1293.1 545.6 L1293.3 547.3 L1293.5 549.0 L1293.7 550.7 L1293.9 552.3 L1294.1 553.8 L1294.2 555.4 L1294.4 557.0 L1294.6 558.6 L1294.8 560.2 L1295.0 561.8 L1295.2 563.4 L1295.3 565.1 L1295.5 566.7 L1295.7 568.3 L1295.9 570.0 L1296.1 571.6 L1296.3 573.3 L1296.5 574.9 L1296.7 576.6 L1296.9 578.3 L1297.1 579.9 L1297.2 581.6 L1297.4 583.2 L1297.6 584.9 L1297.8 586.6 L1298.0 588.2 L1298.2 589.9 L1298.4 591.5 L1298.6 593.2 L1298.7 594.8 L1298.9 596.4 L1299.1 598.1 L1299.3 599.7 L1299.5 601.3 L1299.6 602.9 L1299.8 604.5 L1300.0 606.2 L1300.2 607.8 L1300.3 609.5 L1300.5 611.1 L1300.7 612.8 L1300.9 614.4 L1301.0 616.1 L1301.2 617.7 L1301.4 619.4 L1301.5 621.0 L1301.7 622.6 L1301.9 624.3 L1302.0 625.9 L1302.2 627.5 L1302.4 629.2 L1302.5 630.8 L1302.7 632.4 L1302.9 634.0 L1303.0 635.7 L1303.2 637.3 L1303.3 638.9 L1303.5 640.5 L1303.7 642.1 L1303.8 643.7 L1304.0 645.3 L1304.1 647.0 L1304.3 648.6 L1304.4 650.2 L1304.6 651.8 L1304.7 653.4 L1304.8 655.0 L1305.0 656.6 L1305.1 658.2 L1305.3 659.9 L1305.4 661.5 L1305.6 663.1 L1305.7 664.6 L1305.8 666.2 L1306.0 667.8 L1306.1 669.4 L1306.2 671.0 L1306.4 672.6 L1306.5 674.2 L1306.6 675.8 L1306.8 677.4 L1306.9 678.9 L1307.0 680.5 L1307.1 682.1 L1307.3 683.7 L1307.4 685.3 L1307.5 686.9 L1307.6 688.5 L1307.7 690.1 L1307.8 691.7 L1308.0 693.4 L1308.1 695.0 L1308.2 696.6 L1308.3 698.3 L1308.4 699.9 L1308.5 701.5 L1308.6 703.1 L1308.7 704.7 L1308.8 706.3 L1308.8 707.9 L1308.9 709.6 L1309.0 711.2 L1309.0 712.8 L1309.1 714.5 L1309.2 716.2 L1309.2 717.8 L1309.3 719.5 L1309.3 721.1 L1309.4 722.8 L1309.5 724.5 L1309.5 726.1 L1309.6 727.8 L1309.6 729.4 L1309.7 731.1 L1309.8 732.7 L1309.8 734.4 L1309.9 736.0 L1310.0 737.6 L1310.1 739.3 L1310.2 740.9 L1310.3 742.5 L1310.4 744.0 L1310.5 745.6 L1310.6 747.1 L1310.7 748.7 L1310.9 750.2 L1311.0 751.7 L1311.2 753.4 L1311.4 755.1 L1311.5 756.8 L1311.7 758.5 L1311.9 760.2 L1312.1 761.8 L1312.3 763.5 L1312.5 765.1 L1312.7 766.7 L1313.0 768.4 L1313.2 770.0 L1313.4 771.6 L1313.7 773.2 L1313.9 774.7 L1314.2 776.3 L1314.4 777.9 L1314.7 779.4 L1315.0 780.9 L1315.2 782.4 L1315.5 783.9 L1315.8 785.4 L1316.1 786.9 L1316.4 788.4 L1316.7 789.8 L1317.1 791.6 L1317.4 793.4 L1317.8 795.3 L1318.1 797.3 L1318.5 799.3 L1318.8 801.2 L1319.2 803.2 L1319.6 805.1 L1320.0 806.9 L1320.4 808.7 L1320.9 810.3 L1321.3 811.8 L1321.8 813.1 L1322.4 814.3 L1323.0 815.3 L1323.6 816.1 L1324.3 816.6 L1326.0 817.0 L1327.9 816.4 L1329.9 815.5 L1332.0 814.6 L1333.5 813.8 L1335.2 812.8 L1336.8 811.6 L1338.5 810.5 L1340.2 809.5 L1341.8 809.0 L1343.4 808.9 L1344.6 809.2 L1345.8 809.9 L1347.0 810.7 L1348.2 811.8 L1349.4 813.0 L1350.6 814.4 L1351.7 815.8 L1352.8 817.3 L1353.9 818.9 L1354.9 820.4 L1355.7 821.6 L1356.4 822.8 L1357.1 824.1 L1357.8 825.5 L1358.5 826.9 L1359.2 828.4 L1359.8 829.9 L1360.5 831.5 L1361.1 833.0 L1361.7 834.6 L1362.3 836.2 L1362.9 837.8 L1363.5 839.4 L1364.1 841.0 L1364.6 842.6 L1365.2 844.1 L1365.8 845.6 L1366.3 847.1 L1366.9 848.7 L1367.5 850.2 L1368.0 851.7 L1368.6 853.1 L1369.1 854.6 L1369.6 856.1 L1370.1 857.5 L1370.6 859.0 L1371.1 860.5 L1371.6 862.0 L1372.0 863.5 L1372.5 865.0 L1373.0 866.6 L1373.4 868.3 L1373.9 870.0 L1374.3 871.4 L1374.6 872.8 L1375.0 874.3 L1375.3 875.8 L1375.6 877.3 L1376.0 878.8 L1376.3 880.4 L1376.6 881.9 L1377.0 883.5 L1377.3 885.2 L1377.6 886.8 L1377.9 888.4 L1378.2 890.1 L1378.5 891.7 L1378.8 893.4 L1379.1 895.0 L1379.4 896.7 L1379.7 898.3 L1380.0 900.0 L1380.3 901.6 L1380.7 903.3 L1381.0 904.9 L1381.3 906.5 L1381.6 908.1 L1381.9 909.7 L1382.2 911.3 L1382.5 912.9 L1382.9 914.5 L1383.2 916.1 L1383.5 917.8 L1383.8 919.4 L1384.1 921.0 L1384.4 922.6 L1384.7 924.2 L1385.0 925.9 L1385.4 927.5 L1385.7 929.1 L1386.0 930.7 L1386.3 932.3 L1386.6 933.9 L1386.9 935.5 L1387.2 937.1 L1387.6 938.6 L1387.9 940.2 L1388.2 941.7 L1388.5 943.3 L1388.9 944.8 L1389.2 946.3 L1389.6 948.0 L1389.9 949.7 L1390.3 951.4 L1390.7 953.1 L1391.0 954.8 L1391.4 956.5 L1391.8 958.1 L1392.1 959.8 L1392.5 961.5 L1392.9 963.1 L1393.2 964.7 L1393.6 966.3 L1394.0 967.9 L1394.5 969.4 L1394.9 971.0 L1395.3 973.6 L1395.8 974.1 L1396.3 974.8 L1396.8 977.9 L1397.4 978.0 L1398.0 979.9 L1398.6 980.8 L1399.2 983.4 L1399.8 985.3 L1400.5 987.0 L1401.1 987.9 L1401.8 990.1 L1402.6 990.3 L1403.4 992.3 L1404.3 993.0 L1405.3 994.8 L1406.4 994.8 L1407.8 995.5 L1409.4 996.6 L1411.1 996.7 L1412.9 997.6 L1414.7 997.4 L1416.6 997.8 L1418.4 997.6 L1420.2 997.7 L1421.9 998.3 L1423.5 997.5 L1425.1 998.1 L1426.7 1000.4 L1428.2 999.4 L1429.7 1001.7 L1431.1 1002.6 L1432.4 1002.2 L1433.7 1005.2 L1435.0 1006.3 L1436.4 1006.9 L1437.8 1008.3 L1439.0 1009.6 L1440.3 1009.2 L1441.5 1011.5 L1442.6 1013.0 L1443.4 1015.1 L1444.1 1016.4 L1444.8 1018.0 L1445.5 1019.1 L1446.1 1021.5 L1446.8 1022.8 L1447.4 1024.5 L1448.0 1025.1 L1448.7 1026.2 L1449.4 1028.0 L1450.2 1029.9 L1451.2 1030.9 L1452.1 1034.2 L1453.1 1035.1 L1454.1 1036.7 L1455.3 1037.9 L1456.5 1039.2 L1457.9 1039.7 L1459.3 1039.1 L1460.8 1041.5 L1462.4 1041.8 L1464.2 1041.4 L1466.0 1041.6 L1467.8 1042.0 L1469.6 1040.6 L1471.4 1042.2 L1473.1 1041.0 L1474.8 1040.6 L1476.6 1041.0 L1478.3 1042.1 L1480.1 1040.7 L1481.9 1041.9 L1483.6 1042.2 L1485.2 1040.7 L1486.9 1040.0 L1488.4 1039.6 L1489.8 1039.4 L1491.2 1038.8 L1492.5 1037.4 L1493.8 1036.4 L1495.1 1034.0 L1496.3 1032.9 L1497.5 1032.0 L1498.6 1032.0 L1499.8 1029.7 L1501.0 1029.2 L1502.1 1026.7 L1503.3 1025.7 L1504.4 1025.0 L1505.5 1024.8 L1506.6 1023.6 L1507.6 1022.2 L1508.5 1019.8 L1509.4 1018.8 L1510.0 1017.4 L1510.6 1015.9 L1511.0 1013.6 L1511.5 1013.8 L1511.9 1010.5 L1512.2 1010.7 L1512.5 1008.8 L1512.9 1004.9 L1513.2 1004.2 L1513.5 1003.3 L1513.8 1001.9 L1514.2 999.0 L1514.6 996.9 L1515.1 995.2 L1515.6 995.3 L1516.2 991.9 L1516.8 991.1 L1517.3 988.5 L1517.9 987.8 L1518.6 987.3 L1519.2 983.7 L1519.8 983.8 L1520.5 981.5 L1521.2 980.8 L1521.9 978.8 L1522.7 976.2 L1523.5 976.3 L1524.3 973.8 L1525.2 971.2 L1526.1 969.6 L1527.0 969.3 L1527.9 967.7 L1528.9 965.9 L1529.8 964.0 L1530.8 963.0 L1531.7 961.5 L1532.6 961.3 L1533.4 957.9 L1534.2 958.3 L1535.0 956.9 L1535.8 953.5 L1536.4 953.8 L1537.1 951.7 L1537.7 950.5 L1538.4 947.5 L1539.1 946.2 L1539.9 944.8 L1540.8 944.9 L1541.8 942.7 L1543.0 940.9 L1544.4 939.9 L1545.8 938.4 L1547.3 936.8 L1548.9 936.0 L1550.5 936.9 L1552.1 934.9 L1553.7 936.1 L1555.2 934.2 L1556.7 934.3 L1558.2 935.1 L1559.7 934.8 L1561.2 935.8 L1562.8 937.9 L1564.3 938.6 L1565.7 939.3 L1567.1 939.8 L1568.5 941.5 L1569.7 942.5 L1570.8 942.6 L1571.9 944.2 L1572.9 943.8 L1573.9 946.7 L1574.9 947.4 L1575.9 949.4 L1576.9 950.5 L1577.9 950.9 L1579.0 951.6 L1580.0 954.9 L1581.1 954.2 L1582.3 956.1 L1583.5 956.9 L1584.7 957.8 L1585.9 959.9 L1587.0 961.6 L1588.2 961.0 L1589.3 963.1 L1590.4 963.5 L1591.4 965.4 L1592.3 966.4 L1593.1 967.2 L1593.9 968.7 L1594.7 970.3 L1595.4 973.5 L1596.2 974.2 L1596.9 975.1 L1597.6 978.4 L1598.3 980.2 L1599.0 980.5 L1599.6 981.3 L1600.3 982.1 L1601.0 983.1 L1601.8 986.0 L1602.5 986.3 L1603.2 988.7 L1603.9 990.4 L1604.6 993.6 L1605.3 996.8 L1606.0 997.6 L1606.7 997.3 L1607.5 998.7 L1608.3 1000.6 L1609.2 1001.3 L1610.2 1002.4 L1611.3 1002.3 L1612.3 1004.7 L1613.3 1009.5 L1614.4 1006.4 L1615.5 1009.6 L1616.5 1011.5 L1617.5 1014.0 L1618.6 1011.8 L1619.6 1013.3 L1620.7 1014.4 L1621.7 1016.5 L1622.8 1018.0 L1623.8 1022.0 L1624.8 1022.9 L1625.7 1024.5 L1626.5 1021.8 L1627.4 1023.7 L1628.2 1029.2 L1629.1 1032.2 L1629.9 1031.9 L1630.8 1034.3 L1631.6 1032.7 L1632.4 1036.0 L1633.2 1039.5 L1634.0 1039.3 L1634.9 1038.9 L1635.8 1038.2 L1636.7 1032.4 L1637.5 1029.5 L1638.4 1027.4 L1639.3 1027.4 L1640.3 1026.7 L1641.3 1027.5 L1642.2 1026.6 L1643.1 1026.9 L1644.0 1028.6 L1645.0 1028.4 L1646.0 1030.5 L1647.0 1029.6 L1648.1 1035.1 L1649.2 1033.8 L1650.4 1038.8 L1651.6 1038.4 L1653.0 1037.4 L1654.6 1037.3 L1656.2 1038.6 L1657.8 1041.2 L1659.5 1042.1 L1661.2 1039.4 L1662.9 1039.4 L1664.5 1041.9 L1666.0 1042.1 L1667.6 1040.7 L1669.2 1039.0 L1670.8 1039.8 L1672.3 1035.6 L1673.7 1036.1 L1675.1 1036.4 L1676.4 1039.0 L1677.5 1038.0 L1678.4 1040.3 L1679.3 1039.6 L1680.1 1040.1 L1680.9 1042.0 L1681.7 1047.6 L1682.5 1048.1 L1683.5 1047.7 L1684.6 1047.5 L1686.0 1051.1 L1687.5 1052.9 L1689.2 1052.3 L1690.9 1052.2 L1692.6 1055.0 L1694.3 1057.2 L1695.7 1054.5 L1697.0 1054.8 L1697.8 1057.6 L1698.5 1059.5 L1699.0 1062.4 L1699.5 1061.7 L1699.9 1066.6 L1700.2 1068.1 L1700.6 1068.8 L1700.9 1069.1 L1701.4 1074.8 L1701.8 1073.0 L1702.5 1077.2 L1703.2 1075.4 L1704.3 1076.8 L1705.4 1081.1 L1706.7 1080.1 L1708.1 1084.8 L1709.4 1083.5 L1710.8 1082.7 L1712.2 1083.5 L1713.5 1084.7 L1714.8 1085.8 L1716.2 1086.7 L1717.6 1081.7 L1718.9 1081.9 L1720.3 1079.7 L1721.6 1082.2 L1722.7 1076.4 L1723.8 1074.5 L1724.5 1073.3 L1725.1 1073.6 L1725.7 1074.8 L1726.1 1073.1 L1726.6 1070.6 L1726.9 1070.3 L1727.3 1068.2 L1727.7 1063.3 L1728.0 1060.8 L1728.4 1063.0 L1728.9 1060.4 L1729.4 1055.2 L1730.0 1057.1 L1730.8 1054.0 L1731.7 1052.5 L1732.6 1051.0 L1733.5 1048.8 L1734.5 1046.6 L1735.5 1046.8 L1736.5 1045.9 L1737.4 1047.6 L1738.3 1041.8 L1739.1 1044.8 L1739.9 1039.5 L1740.7 1038.8 L1741.5 1039.7 L1742.2 1038.3 L1743.0 1034.7 L1743.7 1031.2 L1744.4 1031.8 L1745.2 1029.8 L1745.8 1031.0 L1746.5 1025.7 L1747.1 1025.1 L1747.6 1026.3 L1748.0 1020.1 L1748.4 1020.5 L1748.8 1020.9 L1749.3 1019.0 L1749.7 1013.6 L1750.1 1012.0 L1750.7 1010.6 L1751.2 1013.6 L1751.9 1008.7 L1752.7 1010.0 L1753.7 1009.4 L1754.8 1005.2 L1755.9 1003.5 L1757.2 1005.8 L1758.5 1002.8 L1759.8 999.9 L1761.2 1001.3 L1762.5 998.4 L1763.8 997.6 L1765.1 995.8 L1766.8 999.6 L1768.5 1000.7 L1770.3 999.8 L1772.0 1002.1 L1773.7 998.2 L1775.4 1000.1 L1776.9 1002.2 L1778.4 1005.6 L1779.9 1006.5 L1781.4 1004.7 L1782.8 1005.1 L1784.3 1007.1 L1785.7 1008.7 L1786.9 1012.0 L1788.0 1009.3 L1789.1 1013.9 L1790.2 1014.9 L1791.3 1016.6 L1792.4 1017.6 L1793.6 1017.9 L1794.8 1017.4 L1796.0 1018.2 L1797.6 1019.1 L1799.4 1021.8 L1801.1 1018.6 L1802.9 1019.4 L1804.7 1022.4 L1806.4 1019.8 L1808.2 1018.8 L1809.9 1018.6 L1811.7 1021.0 L1813.5 1019.5 L1815.1 1022.4 L1816.7 1021.1 L1817.9 1020.7 L1818.9 1015.6 L1819.9 1013.1 L1820.8 1011.5 L1821.7 1012.0 L1822.7 1011.6 L1823.7 1009.1 L1824.9 1007.3 L1826.5 1008.1 L1828.3 1009.7 L1830.2 1010.7 L1832.0 1011.9 L1833.7 1012.8 L1835.2 1011.7 L1836.2 1007.9 L1837.1 1010.2 L1837.8 1005.5 L1838.5 1004.9 L1839.1 1001.9 L1839.7 1001.9 L1840.5 997.7 L1841.4 997.1 L1843.4 997.1 L1845.6 997.5 L1847.6 1001.4 L1848.7 999.0 L1849.8 996.4 L1850.7 995.1 L1851.7 996.4 L1852.7 992.0 L1853.8 988.8 L1854.6 990.6 L1855.5 988.4 L1856.3 988.7 L1857.2 982.7 L1858.1 983.1 L1859.1 983.4 L1860.0 982.1 L1861.0 981.1 L1862.0 975.4 L1863.0 975.6 L1864.1 973.7 L1865.8 973.1 L1867.6 976.5 L1869.4 974.0 L1871.3 975.3 L1873.0 971.8 L1874.5 973.5 L1875.7 970.1 L1876.6 967.7 L1877.5 968.8 L1878.3 968.1 L1879.3 962.3 L1880.6 963.8 L1882.1 963.2 L1883.7 960.5 L1885.5 960.9 L1887.4 959.5 L1889.3 959.7 L1891.2 959.9 L1893.0 961.8 L1894.6 962.3 L1896.2 960.3 L1897.8 959.8 L1899.4 961.9 L1901.0 964.4 L1902.5 962.4 L1904.0 963.8 L1905.4 963.9 L1906.9 967.7 L1908.3 967.1 L1909.7 965.4 L1911.0 966.4 L1912.3 968.9 L1913.7 970.9 L1914.8 972.3 L1915.9 970.4 L1917.1 971.9 L1918.2 975.9 L1919.4 975.6 L1920.6 976.3 L1921.8 977.7 L1922.9 982.4 L1924.0 980.4 L1925.0 983.0 L1926.0 983.3 L1927.0 985.0 L1927.9 988.7 L1928.8 990.9 L1929.6 989.1 L1930.4 989.8 L1931.2 994.1 L1932.0 992.8 L1932.7 993.2 L1933.5 999.2 L1934.3 998.0 L1935.3 1001.6 L1936.3 1000.9 L1937.3 1004.7 L1938.3 1003.9 L1939.4 1003.6 L1940.5 1004.2 L1941.6 1008.1 L1942.8 1009.7 L1944.1 1012.2 L1945.4 1009.0 L1946.6 1013.0 L1947.7 1012.9 L1948.7 1014.9 L1949.4 1014.4 L1949.9 1016.7 L1950.4 1019.5 L1950.8 1023.2 L1951.1 1020.6 L1951.6 1024.2 L1952.1 1027.4 L1952.9 1029.7 L1953.8 1027.0 L1954.8 1027.8 L1956.0 1033.1 L1957.2 1034.4 L1958.5 1032.9 L1959.7 1031.7 L1961.0 1037.4 L1962.1 1035.8 L1963.2 1039.7 L1964.1 1039.6 L1965.0 1042.1 L1965.8 1040.2 L1966.5 1045.1 L1967.3 1043.8 L1968.0 1046.4 L1968.8 1050.2 L1969.6 1051.5 L1970.5 1049.4 L1971.4 1050.6 L1973.0 1052.7 L1974.7 1053.9 L1976.5 1053.8 L1978.2 1053.1 L1979.7 1054.9 L1980.5 1058.4 L1981.1 1060.7 L1981.7 1057.7 L1982.2 1062.1 L1982.7 1064.9 L1983.2 1062.9 L1983.6 1068.8 L1984.1 1066.8 L1984.6 1070.8 L1985.2 1071.9 L1985.9 1073.4 L1987.3 1073.0 L1988.8 1074.5 L1990.4 1076.2 L1992.1 1076.4 L1993.4 1078.8 L1994.7 1079.1 L1996.0 1080.7 L1997.4 1080.0 L1998.8 1084.4 L2000.1 1084.7 L2001.4 1083.7 L2002.9 1085.8 L2004.5 1084.3 L2006.0 1080.7 L2007.4 1077.7 L2008.6 1078.8 L2009.6 1077.8 L2010.4 1080.0 L2011.1 1083.9 L2011.8 1084.1 L2012.7 1086.8 L2013.4 1086.8 L2014.1 1083.3 L2014.9 1084.8 L2015.7 1080.0 L2016.6 1081.2 L2017.5 1079.3 L2018.3 1076.0 L2019.2 1072.0 L2020.1 1073.2 L2021.0 1072.1 L2022.0 1075.5 L2023.1 1072.4 L2024.2 1077.9 L2025.3 1080.5 L2026.4 1081.1 L2027.4 1083.2 L2028.4 1081.1 L2029.2 1085.5 L2029.7 1082.5 L2030.1 1083.9 L2030.4 1082.3 L2030.7 1076.6 L2030.9 1077.7 L2031.0 1076.3 L2031.2 1069.5 L2031.4 1068.7 L2031.6 1068.8 L2031.9 1063.8 L2032.2 1066.1 L2032.7 1061.8 L2033.3 1064.0 L2034.5 1060.8 L2035.9 1063.8 L2037.4 1067.7 L2039.0 1065.6 L2040.4 1067.1 L2041.6 1068.6 L2042.3 1067.1 L2042.8 1064.4 L2043.1 1063.6 L2043.4 1061.6 L2043.6 1063.6 L2043.9 1060.1 L2044.3 1059.3 L2044.9 1053.8 L2045.7 1055.6 L2046.9 1051.0 L2048.3 1052.3 L2050.0 1052.1 L2051.7 1050.0 L2053.5 1052.1 L2055.2 1049.8 L2056.8 1049.2 L2058.1 1049.9 L2059.4 1044.7 L2060.5 1048.1 L2061.5 1044.9 L2062.5 1042.3 L2063.4 1042.9 L2064.3 1038.5 L2064.9 1041.0 L2065.6 1037.4 L2066.2 1034.7 L2066.8 1035.2 L2067.3 1031.9 L2067.9 1028.8 L2068.4 1030.1 L2068.9 1024.9 L2069.5 1027.4 L2070.0 1023.1 L2070.5 1023.9 L2071.4 1023.9 L2072.3 1020.3 L2073.1 1019.3 L2074.0 1016.0" fill="none" stroke="#0000ff" stroke-width="6.9" stroke-linejoin="round"/>
<path d="M250.0 205.5 L251.6 205.5 L253.2 205.6 L254.8 206.1 L256.4 205.9 L258.0 206.0 L259.7 206.4 L261.3 205.5 L262.9 205.6 L264.5 206.1 L266.1 205.4 L267.7 205.4 L269.3 205.7 L270.9 205.5 L272.5 205.7 L274.1 205.6 L275.7 206.0 L277.3 206.0 L278.9 205.5 L280.5 206.0 L282.1 205.8 L283.7 205.4 L285.3 206.3 L286.9 205.5 L288.4 205.4 L290.0 205.4 L291.6 205.9 L293.2 206.2 L294.8 206.1 L296.4 205.7 L298.0 205.5 L299.6 205.2 L301.2 205.9 L302.9 205.8 L304.5 205.6 L306.1 205.9 L307.7 205.6 L309.3 206.2 L310.9 205.9 L312.5 205.4 L314.1 206.1 L315.7 205.2 L317.3 205.7 L318.9 205.5 L320.6 205.4 L322.2 205.1 L323.8 205.9 L325.4 205.1 L327.0 205.7 L328.7 206.1 L330.3 205.2 L331.9 205.3 L333.5 205.7 L335.2 205.6 L336.8 205.7 L338.5 205.9 L340.1 205.2 L341.7 205.3 L343.4 205.3 L345.0 205.0 L346.7 205.9 L348.3 205.8 L350.0 205.7 L351.6 204.9 L353.1 205.9 L354.7 205.7 L356.3 205.4 L357.8 205.7 L359.4 205.4 L361.0 205.1 L362.6 205.0 L364.1 205.1 L365.7 204.9 L367.3 205.2 L368.9 205.7 L370.5 205.6 L372.1 205.7 L373.7 205.6 L375.3 205.1 L376.9 205.4 L378.5 205.2 L380.1 205.6 L381.8 205.3 L383.4 205.0 L385.0 205.4 L386.6 205.7 L388.2 204.9 L389.8 205.6 L391.5 204.7 L393.1 204.9 L394.7 204.9 L396.3 205.4 L397.9 205.6 L399.6 205.4 L401.2 204.9 L402.8 205.5 L404.4 204.9 L406.1 204.8 L407.7 205.5 L409.3 205.2 L410.9 205.3 L412.6 205.2 L414.2 205.5 L415.8 205.0 L417.4 205.4 L419.1 205.2 L420.7 205.4 L422.3 204.9 L423.9 205.2 L425.5 205.0 L427.1 204.7 L428.8 204.6 L430.4 205.1 L432.0 204.5 L433.6 205.4 L435.2 204.5 L436.8 204.4 L438.4 204.5 L440.0 205.4 L441.6 204.8 L443.2 204.5 L444.8 204.4 L446.3 204.4 L447.9 205.1 L449.5 205.1 L451.1 205.2 L452.6 205.2 L454.2 204.5 L455.8 205.1 L457.3 204.8 L458.9 205.3 L460.5 205.3 L462.0 205.4 L463.7 204.5 L465.3 205.4 L467.0 205.5 L468.6 205.5 L470.3 204.6 L472.0 204.8 L473.6 204.7 L475.3 204.6 L476.9 205.5 L478.6 205.5 L480.2 205.3 L481.9 205.6 L483.5 205.4 L485.2 205.0 L486.8 204.9 L488.5 204.9 L490.1 205.6 L491.8 205.0 L493.4 205.2 L495.0 205.3 L496.7 204.9 L498.3 205.2 L500.0 205.3 L501.6 205.8 L503.2 205.4 L504.8 205.4 L506.5 206.2 L508.1 205.7 L509.7 206.1 L511.3 205.9 L513.0 205.3 L514.6 205.7 L516.2 205.8 L517.8 206.2 L519.4 205.8 L521.0 206.2 L522.6 206.0 L524.2 205.7 L525.8 206.5 L527.4 205.7 L529.0 206.5 L530.6 205.8 L532.2 205.7 L533.7 205.9 L535.3 206.6 L536.9 206.9 L538.4 205.8 L540.0 206.4 L541.6 206.5 L543.1 206.8 L544.7 206.2 L546.2 206.6 L547.8 206.5 L549.3 207.1 L550.9 206.5 L552.4 207.3 L553.9 206.6 L555.5 206.6 L557.0 207.1 L558.5 207.0 L560.0 206.6 L561.7 207.2 L563.4 206.6 L565.2 207.5 L566.9 207.4 L568.6 207.6 L570.4 207.5 L572.1 207.3 L573.9 207.4 L575.7 207.5 L577.4 208.1 L579.2 207.3 L581.0 208.2 L582.7 207.4 L584.5 207.6 L586.3 207.8 L588.0 208.6 L589.8 208.2 L591.5 208.2 L593.3 208.8 L595.0 208.2 L596.8 208.5 L598.5 208.7 L600.2 209.0 L601.9 209.1 L603.6 209.0 L605.3 208.8 L606.9 208.8 L608.6 208.7 L610.2 209.6 L611.8 209.4 L613.4 209.6 L615.0 209.0 L616.6 209.4 L618.1 209.8 L619.6 209.7 L621.1 209.2 L622.6 209.6 L624.1 210.2 L625.5 209.5 L626.9 209.5 L628.3 209.6 L629.6 210.1 L630.9 210.3 L632.2 209.6 L633.4 209.6 L634.7 209.7 L635.8 209.8 L637.0 210.0 L639.1 209.6 L641.0 209.8 L642.9 209.6 L644.7 210.4 L646.3 210.1 L648.0 209.4 L649.5 210.2 L651.1 209.2 L652.6 209.5 L654.1 210.0 L655.5 209.8 L657.0 209.6 L658.5 209.2 L660.0 208.9 L661.9 209.2 L663.7 208.5 L665.5 208.4 L667.3 208.3 L669.1 207.7 L670.8 207.9 L672.5 208.2 L674.2 208.1 L675.8 207.9 L677.3 208.2 L679.0 208.4 L680.7 208.4 L682.2 209.5 L683.8 209.9 L685.2 210.9 L686.7 211.9 L688.1 212.3 L689.3 213.4 L690.5 214.6 L691.6 215.4 L692.7 216.5 L693.8 217.7 L694.8 219.0 L695.8 220.4 L696.8 221.8 L697.8 223.2 L698.6 224.5 L699.3 225.8 L700.1 227.2 L700.8 228.6 L701.5 230.1 L702.2 231.7 L702.8 233.2 L703.5 234.8 L704.1 236.4 L704.7 237.9 L705.3 239.5 L705.8 241.1 L706.4 242.6 L707.0 244.2 L707.5 245.8 L708.0 247.4 L708.5 248.9 L708.9 250.5 L709.4 252.1 L709.8 253.7 L710.2 255.4 L710.6 257.0 L711.0 258.7 L711.4 260.4 L711.8 262.1 L712.1 263.6 L712.4 265.1 L712.7 266.7 L713.0 268.2 L713.3 269.8 L713.6 271.4 L713.8 273.0 L714.1 274.6 L714.3 276.3 L714.6 277.9 L714.8 279.6 L715.1 281.2 L715.3 282.9 L715.6 284.6 L715.8 286.3 L716.1 288.0 L716.3 289.5 L716.6 291.1 L716.8 292.7 L717.0 294.2 L717.3 295.8 L717.5 297.4 L717.7 299.1 L717.9 300.7 L718.2 302.3 L718.4 304.0 L718.6 305.6 L718.8 307.3 L719.1 308.9 L719.3 310.6 L719.5 312.2 L719.7 313.9 L719.9 315.5 L720.1 317.1 L720.3 318.8 L720.5 320.4 L720.7 322.0 L720.9 323.6 L721.1 325.2 L721.2 326.9 L721.4 328.5 L721.6 330.1 L721.7 331.7 L721.9 333.3 L722.1 334.9 L722.2 336.5 L722.4 338.2 L722.5 339.8 L722.7 341.4 L722.9 343.0 L723.0 344.6 L723.1 346.2 L723.3 347.8 L723.4 349.5 L723.6 351.1 L723.7 352.7 L723.8 354.3 L724.0 355.9 L724.1 357.6 L724.2 359.2 L724.3 360.8 L724.4 362.4 L724.5 364.0 L724.7 365.7 L724.8 367.3 L724.9 368.9 L725.0 370.5 L725.1 372.1 L725.2 373.8 L725.3 375.4 L725.4 377.0 L725.5 378.6 L725.6 380.2 L725.7 381.9 L725.8 383.5 L725.9 385.1 L726.0 386.7 L726.1 388.3 L726.2 390.0 L726.3 391.6 L726.4 393.2 L726.5 394.8 L726.6 396.4 L726.7 398.1 L726.8 399.7 L727.0 401.3 L727.1 402.9 L727.2 404.5 L727.3 406.2 L727.4 407.8 L727.5 409.4 L727.6 411.0 L727.7 412.6 L727.8 414.3 L727.9 415.9 L728.0 417.5 L728.1 419.1 L728.2 420.8 L728.3 422.4 L728.5 424.1 L728.6 425.8 L728.7 427.5 L728.8 429.1 L728.9 430.8 L729.0 432.5 L729.2 434.2 L729.3 435.8 L729.4 437.5 L729.5 439.1 L729.6 440.7 L729.7 442.3 L729.8 443.9 L729.9 445.5 L730.0 447.0 L730.1 448.5 L730.2 449.9 L730.3 451.7 L730.4 453.4 L730.5 455.1 L730.6 456.7 L730.6 458.2 L730.7 459.8 L730.8 461.3 L730.9 462.9 L730.9 464.5 L731.0 466.2 L731.1 468.1 L731.2 470.0 L731.3 471.4 L731.3 472.8 L731.4 474.2 L731.5 475.7 L731.5 477.3 L731.6 478.9 L731.7 480.5 L731.8 482.1 L731.8 483.8 L731.9 485.5 L732.0 487.2 L732.1 489.0 L732.1 490.7 L732.2 492.5 L732.3 494.3 L732.4 496.0 L732.5 497.8 L732.6 499.6 L732.7 501.3 L732.8 503.1 L732.9 504.8 L733.0 506.5 L733.1 508.2 L733.2 509.8 L733.3 511.5 L733.4 513.0 L733.5 514.6 L733.6 516.3 L733.8 518.0 L733.9 519.6 L734.0 521.2 L734.2 522.8 L734.3 524.4 L734.4 526.0 L734.6 527.5 L734.7 529.1 L734.9 530.6 L735.0 532.1 L735.2 533.7 L735.3 535.2 L735.5 536.8 L735.7 538.3 L735.8 539.9 L736.0 541.5 L736.2 543.1 L736.4 544.7 L736.6 546.4 L736.8 548.1 L737.0 549.6 L737.2 551.1 L737.4 552.6 L737.6 554.2 L737.8 555.7 L738.0 557.3 L738.2 558.9 L738.4 560.5 L738.7 562.1 L738.9 563.7 L739.1 565.3 L739.4 566.9 L739.6 568.5 L739.9 570.2 L740.1 571.8 L740.4 573.4 L740.6 575.1 L740.9 576.7 L741.1 578.3 L741.4 580.0 L741.6 581.6 L741.9 583.2 L742.2 584.8 L742.4 586.4 L742.7 588.0 L743.0 589.6 L743.2 591.1 L743.5 592.7 L743.8 594.4 L744.1 596.0 L744.4 597.7 L744.7 599.3 L745.0 601.0 L745.3 602.7 L745.6 604.4 L746.0 606.0 L746.3 607.7 L746.6 609.4 L747.0 611.0 L747.3 612.7 L747.6 614.3 L748.0 616.0 L748.3 617.6 L748.6 619.2 L748.9 620.8 L749.2 622.3 L749.6 623.9 L749.9 625.4 L750.2 627.0 L750.5 628.5 L750.7 629.9 L751.0 631.4 L751.3 632.8 L751.6 634.7 L752.0 636.8 L752.3 638.9 L752.6 641.1 L753.0 643.3 L753.3 645.4 L753.6 647.5 L753.9 649.5 L754.2 651.4 L754.5 653.1 L754.7 654.5 L755.0 655.7 L755.3 656.6 L755.5 657.2 L755.8 657.4 L756.0 657.2 L756.2 656.8 L756.4 656.0 L756.6 655.0 L756.8 653.8 L757.0 652.3 L757.2 650.7 L757.3 648.9 L757.5 647.0 L757.7 645.0 L757.8 642.9 L758.0 640.7 L758.2 638.5 L758.3 636.3 L758.5 634.1 L758.6 632.0 L758.8 629.9 L758.9 628.0 L759.1 626.1 L759.2 624.6 L759.4 623.0 L759.5 621.4 L759.6 619.8 L759.7 618.2 L759.9 616.5 L760.0 614.9 L760.1 613.2 L760.2 611.5 L760.3 609.7 L760.4 608.0 L760.5 606.3 L760.6 604.6 L760.8 602.8 L760.9 601.1 L761.0 599.4 L761.1 597.6 L761.2 595.9 L761.3 594.2 L761.5 592.6 L761.6 590.9 L761.7 589.3 L761.9 587.7 L762.0 586.1 L762.2 584.5 L762.3 583.0 L762.5 581.5 L762.7 579.7 L762.9 577.8 L763.0 575.9 L763.2 574.0 L763.4 572.0 L763.5 570.1 L763.7 568.2 L763.9 566.3 L764.0 564.5 L764.2 562.7 L764.5 561.1 L764.7 559.4 L765.0 558.0 L765.3 556.6 L765.6 555.3 L766.0 554.2 L766.4 553.3 L766.9 552.5 L768.3 551.0 L770.0 550.2 L771.4 550.3 L771.9 550.7 L772.4 551.5 L772.8 552.4 L773.1 553.7 L773.5 555.1 L773.7 556.7 L774.0 558.5 L774.2 560.4 L774.4 562.4 L774.6 564.5 L774.8 566.6 L775.0 568.8 L775.2 570.9 L775.4 573.1 L775.6 575.1 L775.8 577.1 L776.0 578.5 L776.1 579.9 L776.3 581.4 L776.4 582.9 L776.5 584.4 L776.7 586.0 L776.8 587.6 L776.9 589.2 L777.0 590.8 L777.1 592.4 L777.3 594.1 L777.4 595.7 L777.5 597.4 L777.6 599.1 L777.7 600.8 L777.8 602.5 L777.9 604.2 L778.0 605.9 L778.1 607.7 L778.2 609.4 L778.3 611.1 L778.4 612.8 L778.5 614.5 L778.6 616.2 L778.7 617.9 L778.8 619.6 L778.9 621.2 L779.0 622.9 L779.1 624.5 L779.2 626.1 L779.3 627.7 L779.4 629.4 L779.6 631.0 L779.7 632.6 L779.8 634.2 L779.9 635.8 L780.0 637.4 L780.2 639.0 L780.3 640.6 L780.4 642.2 L780.5 643.8 L780.7 645.4 L780.8 647.0 L780.9 648.6 L781.0 650.2 L781.2 651.8 L781.3 653.3 L781.4 654.9 L781.5 656.5 L781.6 658.1 L781.7 659.7 L781.9 661.3 L782.0 662.8 L782.1 664.4 L782.2 666.0 L782.3 667.6 L782.4 669.2 L782.5 670.8 L782.6 672.5 L782.7 674.1 L782.8 675.7 L782.9 677.4 L783.0 679.0 L783.1 680.7 L783.2 682.3 L783.2 683.9 L783.3 685.6 L783.4 687.2 L783.5 688.8 L783.6 690.5 L783.6 692.1 L783.7 693.8 L783.8 695.4 L783.9 697.0 L784.0 698.7 L784.0 700.3 L784.1 702.0 L784.2 703.6 L784.3 705.3 L784.4 707.0 L784.4 708.6 L784.5 710.3 L784.6 712.0 L784.7 713.7 L784.8 715.4 L784.9 717.0 L785.0 718.6 L785.0 720.3 L785.1 722.0 L785.2 723.7 L785.2 725.4 L785.3 727.2 L785.3 728.9 L785.4 730.7 L785.4 732.5 L785.5 734.3 L785.5 736.0 L785.6 737.8 L785.6 739.6 L785.7 741.4 L785.8 743.1 L785.8 744.9 L785.9 746.6 L786.0 748.3 L786.1 750.0 L786.2 751.6 L786.3 753.2 L786.4 754.8 L786.5 756.4 L786.6 757.9 L786.8 759.3 L786.9 760.7 L787.1 762.1 L787.3 763.4 L787.5 764.6 L787.7 765.8 L788.1 767.8 L788.5 769.6 L788.9 771.4 L789.4 773.0 L789.9 774.6 L790.4 776.0 L791.0 777.4 L791.6 778.8 L792.2 780.1 L792.9 781.3 L794.0 782.8 L795.2 784.0 L796.5 785.1 L797.8 786.3 L799.0 787.5 L800.0 789.0 L800.6 790.4 L801.1 792.0 L801.5 793.7 L801.8 795.5 L802.0 797.4 L802.3 799.2 L802.5 801.0 L802.8 802.8 L803.2 804.5 L803.6 806.2 L804.1 807.9 L804.5 809.6 L804.9 811.3 L805.4 812.9 L805.9 814.5 L806.5 816.0 L807.1 817.4 L808.0 819.2 L808.9 821.0 L809.9 822.6 L811.0 824.0 L812.2 825.1 L813.9 825.7 L815.7 825.8 L817.4 826.4 L818.4 827.4 L819.4 828.7 L820.2 830.2 L821.0 831.8 L821.8 833.6 L822.5 835.4 L823.0 836.9 L823.4 838.8 L823.8 840.8 L824.1 842.9 L824.4 845.0 L824.7 847.0 L825.0 848.8 L825.4 850.2 L825.8 851.1 L826.2 851.5 L827.0 850.8 L827.8 849.1 L828.8 847.1 L829.8 845.5 L831.1 844.6 L832.6 844.0 L834.1 843.2 L835.3 842.2 L836.6 841.0 L837.9 839.7 L839.2 838.6 L840.6 838.0 L842.2 838.0 L843.8 838.5 L845.4 839.0 L847.0 839.3 L848.8 839.2 L850.6 838.9 L852.2 838.0 L853.1 837.1 L853.9 835.9 L854.7 834.5 L855.5 832.9 L856.2 831.1 L856.9 829.3 L857.5 827.4 L858.1 825.6 L858.6 823.8 L859.0 822.3 L859.3 820.9 L859.5 819.3 L859.7 817.8 L859.8 816.3 L860.0 814.7 L860.1 813.1 L860.2 811.4 L860.3 809.8 L860.4 808.0 L860.5 806.3 L860.6 804.5 L860.7 803.1 L860.8 801.6 L860.9 800.1 L861.0 798.6 L861.1 797.0 L861.2 795.4 L861.3 793.8 L861.4 792.2 L861.5 790.5 L861.6 788.9 L861.7 787.2 L861.8 785.5 L861.9 783.8 L861.9 782.1 L862.0 780.5 L862.1 778.8 L862.2 777.1 L862.3 775.5 L862.4 773.8 L862.5 772.2 L862.6 770.6 L862.7 769.0 L862.8 767.3 L862.9 765.7 L863.0 764.1 L863.1 762.4 L863.2 760.8 L863.3 759.1 L863.4 757.5 L863.5 755.8 L863.6 754.2 L863.7 752.6 L863.8 751.0 L863.9 749.4 L864.0 747.8 L864.1 746.2 L864.2 744.6 L864.3 743.1 L864.4 741.5 L864.5 740.0 L864.6 738.2 L864.7 736.4 L864.8 734.6 L864.9 732.7 L865.0 730.9 L865.1 729.1 L865.2 727.3 L865.4 725.5 L865.5 723.8 L865.6 722.2 L865.7 720.6 L865.9 719.0 L866.1 717.6 L866.3 716.2 L866.5 715.0 L866.9 712.8 L867.4 710.7 L867.9 708.9 L868.4 707.5 L869.0 707.0 L869.8 707.8 L870.7 709.8 L871.5 712.0 L872.0 713.5 L872.5 715.1 L872.9 716.8 L873.2 718.6 L873.6 720.6 L873.8 721.9 L874.0 723.3 L874.2 724.8 L874.3 726.4 L874.5 728.0 L874.6 729.6 L874.7 731.3 L874.9 733.0 L875.0 734.8 L875.1 736.5 L875.3 738.3 L875.4 740.0 L875.5 741.5 L875.6 743.0 L875.8 744.6 L875.9 746.1 L876.0 747.7 L876.1 749.3 L876.2 750.9 L876.3 752.5 L876.4 754.1 L876.5 755.8 L876.6 757.4 L876.8 759.1 L876.9 760.7 L877.1 762.4 L877.2 764.1 L877.4 765.8 L877.6 767.3 L877.8 768.9 L878.0 770.4 L878.2 772.0 L878.4 773.6 L878.6 775.2 L878.8 776.8 L879.1 778.4 L879.3 780.0 L879.5 781.7 L879.8 783.3 L880.0 784.9 L880.3 786.6 L880.5 788.2 L880.8 789.9 L881.0 791.5 L881.2 793.1 L881.5 794.8 L881.7 796.4 L881.9 798.0 L882.1 799.6 L882.3 801.2 L882.5 802.9 L882.7 804.5 L882.9 806.2 L883.1 807.8 L883.3 809.5 L883.5 811.1 L883.6 812.8 L883.8 814.4 L884.0 816.0 L884.2 817.7 L884.4 819.3 L884.6 820.9 L884.7 822.5 L884.9 824.1 L885.1 825.7 L885.3 827.2 L885.5 828.8 L885.7 830.3 L885.9 832.2 L886.2 834.2 L886.4 836.3 L886.6 838.5 L886.8 840.8 L887.1 843.0 L887.3 845.2 L887.5 847.2 L887.8 849.2 L888.0 850.9 L888.3 852.4 L888.5 853.7 L888.8 854.7 L889.1 855.3 L889.4 855.5 L889.8 855.1 L890.2 854.0 L890.5 852.4 L890.9 850.4 L891.3 848.1 L891.8 845.9 L892.3 843.8 L892.8 841.9 L893.5 840.6 L894.7 839.4 L896.1 838.6 L897.4 837.9 L898.6 836.7 L899.3 835.5 L899.9 834.2 L900.4 832.7 L900.9 831.1 L901.3 829.4 L901.7 827.6 L902.1 825.7 L902.5 823.8 L902.8 822.4 L903.0 820.9 L903.3 819.4 L903.5 817.8 L903.7 816.1 L903.9 814.4 L904.1 812.6 L904.3 810.9 L904.5 809.1 L904.8 807.4 L905.0 805.7 L905.2 804.0 L905.5 802.4 L905.8 800.8 L906.1 799.4 L906.4 798.0 L907.0 796.2 L907.6 794.5 L908.3 793.0 L909.0 791.6 L909.7 790.1 L910.4 788.6 L911.0 786.9 L911.5 785.1 L911.8 783.8 L912.0 782.4 L912.2 780.9 L912.4 779.4 L912.6 777.9 L912.7 776.3 L912.8 774.7 L912.9 773.1 L913.0 771.4 L913.0 769.7 L913.1 768.0 L913.2 766.3 L913.2 764.5 L913.3 762.8 L913.4 761.0 L913.5 759.3 L913.6 757.8 L913.7 756.3 L913.7 754.7 L913.8 753.1 L913.8 751.5 L913.9 749.9 L913.9 748.3 L914.0 746.7 L914.0 745.0 L914.0 743.4 L914.1 741.7 L914.1 740.0 L914.2 738.4 L914.2 736.7 L914.3 735.0 L914.4 733.3 L914.5 731.6 L914.6 729.9 L914.7 728.3 L914.8 726.6 L914.9 724.9 L915.1 723.3 L915.3 721.7 L915.5 720.1 L915.7 718.5 L915.9 716.9 L916.2 715.3 L916.4 713.7 L916.7 712.1 L917.0 710.6 L917.3 709.0 L917.6 707.4 L917.9 705.8 L918.2 704.2 L918.5 702.6 L918.8 701.0 L919.1 699.4 L919.4 697.7 L919.7 696.1 L920.0 694.5 L920.3 692.8 L920.5 691.2 L920.8 689.5 L921.1 687.8 L921.3 686.1 L921.5 684.6 L921.7 683.1 L921.9 681.5 L922.1 680.0 L922.2 678.4 L922.4 676.8 L922.6 675.3 L922.8 673.7 L922.9 672.1 L923.1 670.5 L923.3 668.9 L923.4 667.3 L923.6 665.7 L923.7 664.0 L923.9 662.4 L924.0 660.8 L924.2 659.2 L924.3 657.5 L924.5 655.9 L924.6 654.3 L924.8 652.7 L924.9 651.0 L925.1 649.4 L925.2 647.8 L925.4 646.1 L925.5 644.5 L925.7 642.9 L925.8 641.3 L926.0 639.7 L926.2 638.1 L926.3 636.5 L926.5 634.9 L926.7 633.3 L926.8 631.7 L927.0 630.1 L927.2 628.5 L927.3 626.9 L927.5 625.3 L927.7 623.7 L927.8 622.1 L928.0 620.5 L928.2 618.9 L928.3 617.3 L928.5 615.7 L928.6 614.0 L928.8 612.4 L929.0 610.8 L929.1 609.2 L929.3 607.6 L929.4 606.0 L929.6 604.4 L929.7 602.8 L929.9 601.2 L930.0 599.6 L930.2 598.0 L930.3 596.4 L930.5 594.8 L930.6 593.2 L930.7 591.6 L930.9 590.0 L931.0 588.4 L931.1 586.9 L931.2 585.3 L931.3 583.7 L931.5 582.2 L931.6 580.6 L931.7 579.1 L931.8 577.5 L931.9 576.0 L932.0 574.4 L932.1 572.9 L932.2 571.3 L932.3 569.7 L932.4 568.2 L932.5 566.6 L932.6 565.0 L932.7 563.4 L932.8 561.8 L932.9 560.2 L933.0 558.6 L933.1 557.0 L933.2 555.3 L933.3 553.6 L933.4 552.0 L933.5 550.3 L933.6 548.5 L933.7 546.8 L933.8 545.3 L933.9 543.8 L934.0 542.2 L934.0 540.7 L934.1 539.1 L934.2 537.5 L934.3 535.9 L934.4 534.2 L934.5 532.6 L934.6 530.9 L934.6 529.2 L934.7 527.5 L934.8 525.8 L934.9 524.1 L935.0 522.4 L935.1 520.7 L935.2 519.0 L935.2 517.2 L935.3 515.5 L935.4 513.8 L935.5 512.1 L935.6 510.3 L935.6 508.6 L935.7 506.9 L935.8 505.2 L935.9 503.5 L936.0 501.8 L936.0 500.1 L936.1 498.4 L936.2 496.8 L936.2 495.2 L936.3 493.5 L936.4 491.9 L936.5 490.3 L936.5 488.8 L936.6 487.2 L936.7 485.7 L936.7 484.2 L936.8 482.8 L936.8 481.3 L936.9 479.9 L937.0 478.1 L937.0 476.2 L937.1 474.5 L937.2 472.7 L937.2 471.0 L937.3 469.3 L937.3 467.6 L937.3 465.9 L937.4 464.3 L937.4 462.7 L937.5 461.1 L937.5 459.5 L937.5 457.9 L937.6 456.4 L937.6 454.8 L937.7 453.3 L937.7 451.7 L937.8 450.2 L937.9 448.6 L937.9 447.1 L938.0 445.5 L938.1 444.0 L938.2 442.4 L938.3 440.7 L938.4 439.0 L938.5 437.2 L938.6 435.5 L938.7 433.7 L938.8 432.0 L938.9 430.2 L939.0 428.4 L939.2 426.7 L939.3 425.0 L939.4 423.3 L939.6 421.6 L939.7 420.0 L939.9 418.4 L940.1 416.8 L940.3 415.4 L940.6 413.9 L940.8 412.5 L941.1 411.2 L941.4 410.0 L942.0 407.8 L942.7 405.5 L943.4 403.4 L944.2 401.4 L945.0 399.9 L945.8 398.8 L946.6 398.4 L947.5 398.9 L948.4 400.1 L949.4 401.9 L950.3 404.0 L951.1 406.1 L951.5 407.3 L952.0 408.7 L952.4 410.2 L952.7 411.7 L953.1 413.4 L953.4 415.1 L953.8 416.8 L954.1 418.5 L954.4 420.3 L954.7 422.0 L955.1 423.7 L955.4 425.3 L955.7 426.9 L956.1 428.7 L956.4 430.7 L956.7 432.9 L957.0 435.0 L957.3 437.2 L957.6 439.2 L958.0 441.0 L958.3 442.6 L958.7 443.9 L959.1 444.7 L959.5 445.0 L960.2 444.6 L961.0 443.3 L961.9 441.5 L962.7 439.4 L963.4 437.2 L963.7 436.0 L964.0 434.8 L964.3 433.5 L964.6 432.0 L964.9 430.5 L965.1 429.0 L965.3 427.3 L965.5 425.7 L965.7 424.0 L965.9 422.2 L966.1 420.5 L966.3 418.7 L966.5 416.9 L966.7 415.2 L966.9 413.4 L967.1 411.7 L967.3 410.0 L967.5 408.4 L967.7 406.9 L967.8 405.3 L968.0 403.7 L968.2 402.1 L968.4 400.5 L968.5 398.9 L968.7 397.3 L968.9 395.7 L969.0 394.0 L969.2 392.4 L969.3 390.8 L969.5 389.1 L969.6 387.5 L969.8 385.8 L970.0 384.2 L970.1 382.6 L970.3 380.9 L970.4 379.3 L970.6 377.7 L970.8 376.1 L970.9 374.4 L971.1 372.8 L971.3 371.2 L971.4 369.5 L971.6 367.9 L971.7 366.2 L971.9 364.6 L972.1 362.9 L972.2 361.3 L972.4 359.6 L972.5 358.0 L972.7 356.4 L972.9 354.8 L973.0 353.1 L973.2 351.5 L973.3 350.0 L973.5 348.4 L973.6 346.8 L973.8 345.3 L974.0 343.6 L974.1 341.9 L974.3 340.2 L974.5 338.5 L974.6 336.9 L974.8 335.2 L975.0 333.6 L975.1 331.9 L975.3 330.3 L975.5 328.7 L975.6 327.1 L975.8 325.5 L975.9 324.0 L976.1 322.4 L976.2 320.9 L976.4 319.4 L976.6 317.7 L976.7 316.1 L976.9 314.5 L977.1 312.9 L977.2 311.4 L977.4 309.9 L977.5 308.3 L977.7 306.8 L977.8 305.2 L978.0 303.5 L978.1 301.8 L978.3 300.0 L978.4 298.6 L978.5 297.1 L978.6 295.6 L978.8 294.1 L978.9 292.6 L979.0 291.0 L979.1 289.3 L979.2 287.7 L979.3 286.0 L979.4 284.4 L979.5 282.7 L979.6 281.0 L979.7 279.3 L979.8 277.7 L980.0 276.0 L980.1 274.3 L980.2 272.7 L980.4 271.1 L980.5 269.5 L980.6 267.9 L980.8 266.4 L981.0 264.7 L981.2 263.0 L981.4 261.4 L981.5 259.7 L981.7 258.0 L982.0 256.4 L982.2 254.7 L982.4 253.1 L982.6 251.5 L982.8 249.9 L983.0 248.3 L983.3 246.7 L983.5 245.2 L983.8 243.7 L984.0 242.2 L984.2 240.8 L984.5 239.4 L984.8 237.6 L985.2 235.8 L985.5 234.0 L985.8 232.3 L986.1 230.6 L986.5 229.0 L986.9 227.4 L987.3 225.9 L987.8 224.5 L988.3 223.2 L989.1 221.4 L989.9 219.6 L990.9 218.1 L991.9 216.7 L993.2 215.6 L994.7 214.8 L996.4 214.1 L998.2 214.4 L1000.0 214.3 L1001.8 213.8 L1003.5 213.2 L1005.2 212.8 L1007.0 211.9 L1008.7 211.2 L1010.4 210.1 L1011.8 209.2 L1013.1 208.6 L1014.5 206.9 L1015.9 206.2 L1017.3 205.6 L1018.7 204.6 L1020.2 203.8 L1021.8 202.9 L1023.3 202.8 L1024.9 202.5 L1026.6 202.6 L1028.3 202.2 L1030.1 202.4 L1032.0 202.6 L1033.5 201.7 L1035.2 202.1 L1036.9 202.1 L1038.7 201.6 L1040.5 201.7 L1042.3 202.2 L1044.2 201.1 L1046.0 201.7 L1047.7 201.3 L1049.4 202.1 L1051.0 202.4 L1052.5 202.1 L1054.2 202.0 L1055.7 203.0 L1057.1 203.5 L1058.5 204.3 L1059.9 204.6 L1061.5 205.2 L1063.3 205.8 L1064.6 205.6 L1066.0 205.5 L1067.5 206.2 L1069.0 205.4 L1070.6 205.9 L1072.2 205.5 L1073.9 205.8 L1075.6 205.0 L1077.3 205.8 L1079.1 205.0 L1080.9 204.5 L1082.7 204.6 L1084.5 204.6 L1086.3 204.0 L1088.2 204.3 L1090.0 204.2 L1091.5 204.4 L1093.0 203.9 L1094.4 203.7 L1096.0 203.5 L1097.5 204.0 L1099.0 204.0 L1100.5 203.4 L1102.1 202.9 L1103.7 203.4 L1105.2 202.8 L1106.8 202.4 L1108.4 202.2 L1110.0 202.7 L1111.7 202.6 L1113.3 202.2 L1115.0 201.9 L1116.7 201.8 L1118.3 201.3 L1120.0 202.0 L1121.8 201.1 L1123.5 201.3 L1125.3 201.4 L1127.0 201.3 L1128.8 200.8 L1130.2 200.5 L1131.7 200.7 L1133.2 200.1 L1134.7 200.8 L1136.2 200.2 L1137.8 200.7 L1139.4 200.0 L1140.9 200.1 L1142.5 199.9 L1144.1 200.0 L1145.7 199.7 L1147.4 199.4 L1149.0 200.2 L1150.7 199.6 L1152.3 199.5 L1154.0 199.6 L1155.6 199.7 L1157.3 199.6 L1159.0 199.8 L1160.7 199.8 L1162.3 199.4 L1164.0 200.0 L1165.7 199.9 L1167.4 199.0 L1169.0 199.8 L1170.7 199.8 L1172.3 199.6 L1174.0 198.9 L1175.6 199.6 L1177.3 199.4 L1178.9 198.6 L1180.5 198.6 L1182.1 199.6 L1183.7 199.2 L1185.3 198.7 L1186.9 198.5 L1188.4 198.5 L1190.1 198.6 L1191.7 199.1 L1193.4 198.6 L1195.1 198.3 L1196.8 199.0 L1198.5 198.8 L1200.1 198.1 L1201.8 198.8 L1203.5 198.4 L1205.1 198.5 L1206.8 198.3 L1208.4 198.5 L1210.1 198.3 L1211.7 198.3 L1213.4 197.5 L1215.0 198.0 L1216.6 197.8 L1218.2 197.9 L1219.8 197.5 L1221.4 198.0 L1223.0 197.6 L1224.5 197.2 L1226.1 197.1 L1227.6 197.0 L1229.2 197.4 L1230.7 196.9 L1232.2 197.3 L1233.6 197.0 L1235.1 197.3 L1236.6 197.4 L1238.0 197.4 L1239.8 197.8 L1241.5 197.0 L1243.2 198.0 L1244.8 197.6 L1246.4 197.8 L1248.0 198.0 L1249.6 198.3 L1251.2 197.9 L1252.7 198.1 L1254.3 198.8 L1255.8 198.0 L1257.3 198.8 L1258.9 198.9 L1260.4 198.4 L1262.0 199.2 L1263.5 199.4 L1265.1 199.8 L1266.7 199.3 L1268.3 200.2 L1270.0 199.8 L1271.6 199.9 L1273.2 200.5 L1274.9 199.7 L1276.6 200.7 L1278.3 200.7 L1280.1 200.6 L1281.8 201.3 L1283.6 201.0 L1285.3 201.3 L1287.1 201.5 L1288.8 202.0 L1290.6 201.5 L1292.3 201.9 L1294.1 202.1 L1295.8 202.4 L1297.4 202.9 L1299.1 202.5 L1300.7 203.2 L1302.3 202.9 L1303.8 203.2 L1305.3 203.1 L1306.8 203.5 L1308.2 204.1 L1310.1 204.0 L1312.0 204.3 L1313.7 204.0 L1315.3 204.1 L1316.9 204.3 L1318.4 204.7 L1320.0 204.9 L1321.7 205.2 L1323.4 204.5 L1325.2 205.3 L1327.2 205.5 L1328.5 205.2 L1329.9 204.6 L1331.3 204.9 L1332.7 204.5 L1334.2 204.7 L1335.7 205.4 L1337.2 205.0 L1338.8 205.0 L1340.3 205.0 L1341.9 205.1 L1343.6 204.6 L1345.2 204.5 L1346.9 204.4 L1348.6 204.4 L1350.2 204.2 L1351.9 204.1 L1353.6 203.5 L1355.4 203.8 L1357.1 203.5 L1358.8 203.7 L1360.5 202.8 L1362.2 202.8 L1363.9 202.5 L1365.6 203.2 L1367.3 203.3 L1369.0 202.9 L1370.6 202.5 L1372.1 202.8 L1373.7 202.7 L1375.2 202.3 L1376.7 201.9 L1378.3 201.8 L1379.8 201.8 L1381.3 201.6 L1382.9 201.6 L1384.4 201.7 L1386.0 201.9 L1387.5 200.8 L1389.1 201.2 L1390.6 200.5 L1392.2 200.4 L1393.8 201.1 L1395.4 200.7 L1397.0 201.0 L1398.6 200.3 L1400.3 199.7 L1401.9 200.0 L1403.6 200.1 L1405.3 200.4 L1407.1 200.4 L1408.8 199.7 L1410.6 199.6 L1412.4 199.1 L1414.2 199.7 L1416.1 199.1 L1418.0 199.0 L1419.3 198.8 L1420.7 198.8 L1422.1 199.5 L1423.5 198.9 L1424.9 199.8 L1426.3 198.8 L1427.7 199.7 L1429.2 198.9 L1430.7 198.7 L1432.1 199.5 L1433.6 199.0 L1435.1 199.5 L1436.7 198.9 L1438.2 198.8 L1439.7 199.6 L1441.3 199.6 L1442.9 199.8 L1444.4 199.6 L1446.0 199.0 L1447.6 199.6 L1449.2 199.7 L1450.9 199.5 L1452.5 200.0 L1454.1 199.3 L1455.8 200.1 L1457.4 199.9 L1459.1 199.2 L1460.7 199.2 L1462.4 199.9 L1464.1 200.2 L1465.7 199.4 L1467.4 199.7 L1469.1 200.2 L1470.8 199.6 L1472.5 200.4 L1474.2 200.1 L1475.9 199.7 L1477.6 200.0 L1479.3 200.3 L1481.0 200.2 L1482.7 200.5 L1484.3 200.0 L1486.0 200.7 L1487.7 200.3 L1489.4 200.7 L1491.1 200.7 L1492.8 200.5 L1494.5 200.5 L1496.2 201.0 L1497.9 201.2 L1499.6 201.1 L1501.2 200.9 L1502.9 200.6 L1504.6 200.4 L1506.2 201.4 L1507.9 201.1 L1509.5 201.3 L1511.1 200.8 L1512.8 201.1 L1514.4 201.5 L1516.0 201.4 L1517.6 201.1 L1519.2 200.8 L1520.8 201.0 L1522.5 201.5 L1524.1 200.9 L1525.7 201.3 L1527.4 201.2 L1529.0 201.6 L1530.6 201.5 L1532.3 200.9 L1533.9 200.6 L1535.6 200.9 L1537.2 201.1 L1538.9 201.3 L1540.6 201.6 L1542.2 201.7 L1543.9 200.8 L1545.5 201.7 L1547.2 201.7 L1548.8 201.8 L1550.5 201.5 L1552.2 201.1 L1553.8 201.8 L1555.5 201.8 L1557.1 201.6 L1558.8 201.9 L1560.5 201.3 L1562.1 201.0 L1563.8 201.6 L1565.4 201.8 L1567.1 201.2 L1568.7 201.8 L1570.4 202.0 L1572.0 201.2 L1573.6 201.7 L1575.3 201.7 L1576.9 201.5 L1578.5 201.2 L1580.1 201.3 L1581.7 201.8 L1583.3 201.9 L1584.9 201.5 L1586.5 201.1 L1588.1 201.9 L1589.7 201.8 L1591.3 201.2 L1592.9 201.6 L1594.4 201.9 L1596.0 201.9 L1597.5 201.4 L1599.1 201.4 L1600.6 201.5 L1602.1 201.0 L1603.6 201.0 L1605.2 200.9 L1606.7 201.5 L1608.1 201.0 L1609.6 201.2 L1611.1 201.0 L1612.6 201.1 L1614.0 200.6 L1615.8 200.4 L1617.6 201.4 L1619.3 200.6 L1621.1 200.2 L1622.8 200.7 L1624.5 200.7 L1626.2 199.9 L1627.9 200.3 L1629.6 199.9 L1631.3 199.9 L1632.9 199.2 L1634.6 199.1 L1636.2 200.0 L1637.9 199.7 L1639.5 199.1 L1641.1 199.0 L1642.7 198.5 L1644.3 198.9 L1645.9 198.4 L1647.5 198.8 L1649.1 198.4 L1650.7 198.3 L1652.3 198.3 L1653.9 197.4 L1655.5 197.0 L1657.0 197.1 L1658.6 196.9 L1660.2 196.6 L1661.8 196.5 L1663.4 196.9 L1664.9 197.1 L1666.5 196.6 L1668.1 197.0 L1669.7 196.9 L1671.3 195.9 L1672.9 196.4 L1674.5 196.1 L1676.1 195.7 L1677.8 196.6 L1679.4 195.8 L1681.0 196.2 L1682.7 196.2 L1684.3 196.6 L1685.9 196.3 L1687.6 196.0 L1689.2 196.2 L1690.8 195.9 L1692.5 196.8 L1694.1 196.9 L1695.7 196.2 L1697.4 196.1 L1699.0 196.4 L1700.6 196.6 L1702.3 197.3 L1703.9 197.4 L1705.5 197.5 L1707.2 196.7 L1708.8 197.7 L1710.4 197.7 L1712.0 197.8 L1713.7 198.3 L1715.3 197.4 L1716.9 197.6 L1718.6 198.4 L1720.2 198.7 L1721.8 198.5 L1723.5 198.3 L1725.1 198.7 L1726.7 199.0 L1728.4 198.4 L1730.0 198.7 L1731.6 198.7 L1733.3 198.7 L1734.9 199.1 L1736.5 198.8 L1738.2 199.0 L1739.8 198.9 L1741.4 199.6 L1743.1 198.8 L1744.7 199.6 L1746.3 199.1 L1747.9 198.9 L1749.6 199.9 L1751.2 199.1 L1752.8 199.8 L1754.4 199.7 L1756.0 199.7 L1757.5 198.9 L1759.1 199.2 L1760.7 198.7 L1762.3 199.6 L1763.9 199.5 L1765.5 199.2 L1767.0 198.9 L1768.6 198.7 L1770.2 199.2 L1771.8 198.7 L1773.3 198.8 L1774.9 198.2 L1776.5 198.2 L1778.1 198.0 L1779.7 198.6 L1781.3 198.3 L1782.9 197.8 L1784.5 198.5 L1786.2 197.8 L1787.8 197.8 L1789.4 197.5 L1791.1 197.5 L1792.7 198.0 L1794.4 197.4 L1796.1 197.1 L1797.8 197.4 L1799.5 197.1 L1801.2 197.7 L1802.9 196.7 L1804.7 197.6 L1806.4 196.5 L1808.2 197.3 L1810.0 197.0 L1811.5 196.4 L1812.9 196.6 L1814.4 196.4 L1816.0 196.3 L1817.5 196.1 L1819.1 196.2 L1820.7 196.8 L1822.3 196.7 L1823.9 196.6 L1825.5 195.6 L1827.2 195.7 L1828.8 196.3 L1830.5 195.2 L1832.2 195.9 L1833.9 195.3 L1835.6 196.0 L1837.3 194.8 L1839.1 195.6 L1840.8 194.9 L1842.6 194.6 L1844.3 194.4 L1846.1 195.2 L1847.8 194.7 L1849.6 194.2 L1851.4 194.4 L1853.1 194.8 L1854.9 194.0 L1856.6 194.3 L1858.4 193.7 L1860.2 193.6 L1861.9 194.2 L1863.7 194.0 L1865.4 193.3 L1867.2 193.1 L1868.9 193.0 L1870.6 193.5 L1872.3 193.3 L1874.0 193.0 L1875.7 192.8 L1877.4 193.2 L1879.0 193.2 L1880.7 193.2 L1882.3 192.9 L1883.9 192.4 L1885.5 192.2 L1887.1 192.9 L1888.7 192.4 L1890.2 192.7 L1891.7 191.9 L1893.2 192.7 L1894.7 192.2 L1896.2 192.7 L1897.6 192.7 L1899.0 192.2 L1900.4 191.7 L1901.7 192.7 L1903.0 192.2 L1904.3 192.6 L1905.6 191.9 L1906.8 191.8 L1908.0 192.6 L1910.0 192.1 L1912.0 191.9 L1913.9 192.2 L1915.7 192.5 L1917.4 192.0 L1919.1 192.6 L1920.7 192.6 L1922.3 192.8 L1923.9 192.5 L1925.4 193.3 L1927.0 193.5 L1928.5 193.7 L1930.0 193.3 L1931.4 193.9 L1932.9 193.6 L1934.4 194.2 L1936.0 193.6 L1937.5 194.6 L1939.1 194.9 L1940.7 194.5 L1942.3 194.7 L1943.9 194.8 L1945.4 195.0 L1947.0 194.6 L1948.5 195.8 L1949.9 195.2 L1951.4 195.3 L1952.9 195.4 L1954.4 195.8 L1955.9 196.6 L1957.5 195.9 L1959.0 196.2 L1960.6 197.0 L1962.3 196.6 L1964.0 196.6 L1965.7 197.4 L1967.5 197.5 L1969.4 197.6 L1971.4 197.9 L1973.4 197.4 L1974.6 198.3 L1975.8 198.1 L1977.0 197.5 L1978.3 197.6 L1979.6 198.0 L1980.9 198.1 L1982.2 197.9 L1983.6 197.7 L1985.0 198.1 L1986.4 197.8 L1987.8 198.3 L1989.3 198.7 L1990.7 197.9 L1992.2 198.4 L1993.7 198.6 L1995.3 197.9 L1996.8 198.7 L1998.4 198.8 L1999.9 198.2 L2001.5 198.3 L2003.1 198.7 L2004.7 198.4 L2006.4 198.2 L2008.0 198.8 L2009.7 198.6 L2011.3 198.1 L2013.0 198.0 L2014.7 198.1 L2016.4 198.2 L2018.1 198.8 L2019.8 198.6 L2021.5 198.7 L2023.3 198.6 L2025.0 198.6 L2026.7 197.7 L2028.5 198.2 L2030.2 198.7 L2032.0 198.6 L2033.7 197.8 L2035.5 198.0 L2037.2 198.2 L2039.0 197.9 L2040.7 198.1 L2042.5 197.5 L2044.2 197.9 L2046.0 198.0 L2047.7 197.4 L2049.4 197.5 L2051.2 198.4 L2052.9 198.2 L2054.6 198.4 L2056.3 198.0 L2058.1 198.2 L2059.8 198.3 L2061.4 198.3 L2063.1 197.3 L2064.8 198.0 L2066.5 197.6 L2068.1 198.0 L2069.8 197.6 L2071.4 197.8 L2073.0 198.3" fill="none" stroke="#515151" stroke-width="4.8" stroke-linejoin="round"/>
<path d="M250.0 200.4 L251.6 200.0 L253.2 200.3 L254.9 200.2 L256.5 200.7 L258.1 200.0 L259.7 200.0 L261.3 200.3 L263.0 199.7 L264.6 200.2 L266.2 200.6 L267.8 200.1 L269.5 199.8 L271.1 200.0 L272.7 200.1 L274.3 199.6 L276.0 199.6 L277.6 199.6 L279.2 199.7 L280.8 199.8 L282.5 199.7 L284.1 199.6 L285.7 199.4 L287.3 199.9 L289.0 200.2 L290.6 200.0 L292.2 199.9 L293.9 200.0 L295.5 199.5 L297.1 200.0 L298.7 199.7 L300.4 199.8 L302.0 199.8 L303.6 199.7 L305.2 199.5 L306.9 199.4 L308.5 199.3 L310.1 199.6 L311.7 199.5 L313.3 199.7 L315.0 199.0 L316.6 199.4 L318.2 199.9 L319.8 199.2 L321.5 199.5 L323.1 199.5 L324.7 199.2 L326.3 200.0 L327.9 199.2 L329.5 199.7 L331.1 199.0 L332.8 198.9 L334.4 199.7 L336.0 199.2 L337.6 198.8 L339.2 199.1 L340.8 199.2 L342.4 199.5 L344.0 198.8 L345.6 198.9 L347.2 199.7 L348.8 199.4 L350.4 198.7 L352.0 198.9 L353.6 198.9 L355.2 199.3 L356.8 199.2 L358.4 199.4 L360.0 199.4 L361.6 199.0 L363.3 199.2 L364.9 199.2 L366.5 199.2 L368.1 198.9 L369.7 199.2 L371.4 199.1 L373.0 199.3 L374.6 198.4 L376.2 199.2 L377.8 198.2 L379.4 199.0 L381.0 198.8 L382.6 198.6 L384.2 199.1 L385.8 198.7 L387.4 198.5 L389.0 198.8 L390.6 198.9 L392.2 198.6 L393.7 198.3 L395.3 198.4 L396.9 198.3 L398.5 198.6 L400.1 198.1 L401.7 198.2 L403.3 198.3 L404.9 198.1 L406.4 198.0 L408.0 198.5 L409.6 198.5 L411.2 198.1 L412.8 198.0 L414.4 197.7 L416.0 197.8 L417.5 197.6 L419.1 198.1 L420.7 198.0 L422.3 197.5 L423.9 198.4 L425.5 197.7 L427.1 198.2 L428.7 198.2 L430.3 198.3 L431.9 197.4 L433.5 197.7 L435.1 198.2 L436.7 197.2 L438.3 197.2 L439.9 197.7 L441.5 197.6 L443.2 198.1 L444.8 197.9 L446.4 197.6 L448.0 198.1 L449.7 197.5 L451.3 197.5 L452.9 197.7 L454.6 197.4 L456.2 197.3 L457.8 197.5 L459.5 197.3 L461.1 197.9 L462.8 197.6 L464.4 197.4 L465.9 196.9 L467.5 197.2 L469.0 197.3 L470.6 197.4 L472.2 197.4 L473.7 197.8 L475.3 197.8 L476.9 197.3 L478.5 197.3 L480.1 197.5 L481.6 197.9 L483.2 197.1 L484.8 197.4 L486.4 197.7 L488.0 197.0 L489.6 197.1 L491.2 197.8 L492.8 197.7 L494.4 197.3 L496.0 196.9 L497.6 197.8 L499.2 197.5 L500.8 197.7 L502.4 197.9 L504.0 197.8 L505.6 197.3 L507.2 197.0 L508.9 197.1 L510.5 197.4 L512.1 197.4 L513.7 197.0 L515.3 197.0 L516.9 197.5 L518.6 197.5 L520.2 197.2 L521.8 198.0 L523.4 197.6 L525.0 196.9 L526.7 197.3 L528.3 197.8 L529.9 197.2 L531.5 197.7 L533.2 196.9 L534.8 197.3 L536.4 197.8 L538.0 197.6 L539.6 197.7 L541.3 197.2 L542.9 197.5 L544.5 197.6 L546.1 197.2 L547.8 197.7 L549.4 197.5 L551.0 198.1 L552.6 197.6 L554.2 197.4 L555.9 197.1 L557.5 197.2 L559.1 197.8 L560.7 197.1 L562.3 197.1 L563.9 197.2 L565.6 197.6 L567.2 197.9 L568.8 197.7 L570.4 197.9 L572.0 197.0 L573.6 197.0 L575.2 197.8 L576.8 197.3 L578.4 197.7 L580.0 197.3 L581.6 197.1 L583.3 197.2 L584.9 197.0 L586.5 197.9 L588.1 197.5 L589.7 197.3 L591.4 197.4 L593.0 197.3 L594.6 196.9 L596.2 197.8 L597.8 197.5 L599.4 197.9 L601.1 197.3 L602.7 197.5 L604.3 197.0 L605.9 196.8 L607.5 197.7 L609.1 197.6 L610.7 197.0 L612.3 197.7 L613.9 197.5 L615.6 197.0 L617.2 197.3 L618.8 197.6 L620.4 197.1 L622.0 197.6 L623.6 196.8 L625.2 196.9 L626.8 197.3 L628.4 196.7 L630.0 196.8 L631.6 197.4 L633.2 196.9 L634.9 197.2 L636.5 196.6 L638.1 196.5 L639.7 196.7 L641.3 196.5 L642.9 197.3 L644.5 196.6 L646.1 196.8 L647.7 196.3 L649.4 196.8 L651.0 196.6 L652.6 196.6 L654.2 196.2 L655.8 196.2 L657.4 197.0 L659.0 196.5 L660.7 196.3 L662.3 196.3 L663.9 196.3 L665.5 196.3 L667.2 196.0 L668.8 196.7 L670.4 196.3 L672.0 196.1 L673.7 196.7 L675.3 196.0 L676.9 196.2 L678.6 196.8 L680.2 196.0 L681.8 196.4 L683.5 196.8 L685.1 196.8 L686.8 196.0 L688.4 196.2 L690.0 196.7 L691.7 196.3 L693.3 196.9 L695.0 196.1 L696.6 196.9 L698.1 196.4 L699.7 196.1 L701.3 196.4 L702.9 196.0 L704.4 196.6 L706.0 196.2 L707.6 196.9 L709.2 196.5 L710.8 196.3 L712.3 196.2 L713.9 196.6 L715.5 196.2 L717.1 196.9 L718.7 196.1 L720.3 196.5 L721.9 196.6 L723.4 196.3 L725.0 196.9 L726.6 196.5 L728.2 196.8 L729.8 196.7 L731.4 196.4 L733.0 196.5 L734.6 196.2 L736.2 196.3 L737.8 197.1 L739.4 196.5 L741.0 196.9 L742.6 196.3 L744.2 196.9 L745.8 196.7 L747.4 196.8 L749.0 196.6 L750.6 196.4 L752.2 196.7 L753.8 196.6 L755.4 196.5 L757.0 197.2 L758.6 196.7 L760.2 196.9 L761.8 197.5 L763.5 197.3 L765.1 197.5 L766.7 197.5 L768.3 196.7 L769.9 196.9 L771.5 196.6 L773.1 197.4 L774.7 197.4 L776.3 197.0 L778.0 197.1 L779.6 197.4 L781.2 197.5 L782.8 197.0 L784.4 197.7 L786.0 197.1 L787.6 197.5 L789.3 197.0 L790.9 196.9 L792.5 197.8 L794.1 197.6 L795.7 197.6 L797.3 196.9 L799.0 196.9 L800.6 197.1 L802.2 197.1 L803.8 197.2 L805.4 197.3 L807.1 197.0 L808.7 197.3 L810.3 197.6 L811.9 197.1 L813.5 197.9 L815.1 197.6 L816.8 197.7 L818.4 197.2 L820.0 197.4 L821.6 197.7 L823.2 197.3 L824.8 196.9 L826.5 197.8 L828.1 197.8 L829.8 197.2 L831.4 196.9 L833.1 197.8 L834.8 197.5 L836.5 196.9 L838.2 197.1 L839.9 196.9 L841.7 197.7 L843.4 197.0 L845.1 197.8 L846.9 197.6 L848.6 196.8 L850.4 197.4 L852.1 197.1 L853.9 197.4 L855.7 197.5 L857.5 196.9 L859.2 196.6 L861.0 197.6 L862.8 196.9 L864.6 197.5 L866.4 197.2 L868.1 197.2 L869.9 197.3 L871.7 197.0 L873.5 196.8 L875.3 196.3 L877.1 197.0 L878.8 196.7 L880.6 196.7 L882.4 197.1 L884.1 196.2 L885.9 196.9 L887.7 196.1 L889.4 196.8 L891.1 196.8 L892.9 196.2 L894.6 196.5 L896.3 196.9 L898.0 196.5 L899.7 196.4 L901.4 196.1 L903.1 195.8 L904.8 196.1 L906.5 196.2 L908.1 195.9 L909.8 196.0 L911.4 195.8 L913.0 196.4 L914.6 196.3 L916.2 195.8 L917.8 195.8 L919.3 196.1 L920.9 196.0 L922.4 196.5 L923.9 195.9 L925.4 195.8 L926.9 196.4 L928.4 195.6 L929.8 196.1 L931.2 195.8 L932.6 196.4 L934.0 196.1 L935.4 196.3 L936.7 195.6 L938.1 196.2 L939.4 196.1 L940.6 196.0 L941.9 196.3 L943.1 196.4 L944.3 195.7 L945.5 195.9 L946.7 196.0 L947.8 195.8 L948.9 195.7 L950.0 196.0 L952.1 195.9 L954.1 196.6 L956.0 196.4 L957.8 196.1 L959.6 196.5 L961.3 196.8 L962.9 196.8 L964.4 196.7 L965.9 196.8 L967.4 196.8 L968.9 198.1 L970.3 197.9 L971.8 197.3 L973.2 198.1 L974.7 198.6 L976.1 198.2 L977.6 197.8 L979.2 198.3 L980.8 198.3 L982.4 198.1 L984.0 198.5 L985.7 197.8 L987.5 198.8 L989.3 198.4 L991.1 198.2 L992.9 198.5 L994.8 198.0 L996.6 197.4 L998.5 197.2 L1000.3 196.9 L1002.1 196.7 L1004.0 197.3 L1005.7 197.3 L1007.5 196.6 L1009.2 196.4 L1010.8 196.8 L1012.4 197.0 L1013.9 197.2 L1015.3 196.4 L1016.7 197.2 L1017.9 197.4 L1019.1 197.6 L1021.2 197.7 L1023.0 198.4 L1024.5 199.9 L1026.0 200.4 L1027.4 201.5 L1028.8 202.8 L1030.2 203.6 L1031.5 205.3 L1032.8 205.8 L1034.1 206.9 L1035.3 208.8 L1036.4 210.3 L1037.2 211.8 L1038.0 213.0 L1038.7 214.6 L1039.4 215.6 L1040.1 217.1 L1040.8 218.7 L1041.4 220.2 L1042.1 221.7 L1042.8 223.2 L1043.5 224.7 L1044.3 226.2 L1045.0 227.7 L1045.8 229.3 L1046.5 230.8 L1047.3 232.3 L1048.0 233.9 L1048.6 235.5 L1049.3 237.2 L1049.9 238.8 L1050.4 240.3 L1050.9 242.0 L1051.5 243.6 L1052.0 245.3 L1052.4 247.0 L1052.9 248.7 L1053.4 250.4 L1053.8 252.1 L1054.3 253.9 L1054.7 255.6 L1055.1 257.2 L1055.5 258.8 L1055.8 260.5 L1056.2 262.1 L1056.5 263.8 L1056.8 265.4 L1057.2 267.1 L1057.5 268.8 L1057.8 270.5 L1058.1 272.2 L1058.4 273.9 L1058.7 275.5 L1059.0 277.2 L1059.3 278.8 L1059.6 280.5 L1059.8 282.1 L1060.1 283.7 L1060.4 285.3 L1060.6 286.9 L1060.9 288.5 L1061.1 290.1 L1061.4 291.8 L1061.6 293.5 L1061.8 295.2 L1062.1 296.9 L1062.3 298.7 L1062.5 300.2 L1062.7 301.7 L1062.8 303.3 L1063.0 304.8 L1063.2 306.4 L1063.3 308.0 L1063.5 309.6 L1063.6 311.2 L1063.8 312.9 L1063.9 314.6 L1064.1 316.2 L1064.2 317.9 L1064.4 319.6 L1064.5 321.3 L1064.7 323.0 L1064.8 324.8 L1064.9 326.5 L1065.1 328.2 L1065.2 330.0 L1065.3 331.5 L1065.4 333.0 L1065.5 334.6 L1065.6 336.1 L1065.7 337.7 L1065.8 339.2 L1065.9 340.8 L1066.0 342.4 L1066.1 344.0 L1066.2 345.6 L1066.3 347.2 L1066.4 348.8 L1066.4 350.4 L1066.5 352.0 L1066.6 353.7 L1066.7 355.3 L1066.8 357.0 L1066.9 358.6 L1067.0 360.3 L1067.0 362.0 L1067.1 363.7 L1067.2 365.4 L1067.3 367.1 L1067.4 368.8 L1067.5 370.5 L1067.6 372.0 L1067.7 373.5 L1067.8 375.0 L1067.8 376.6 L1067.9 378.1 L1068.0 379.6 L1068.1 381.2 L1068.2 382.8 L1068.2 384.3 L1068.3 385.9 L1068.4 387.5 L1068.5 389.1 L1068.6 390.7 L1068.6 392.3 L1068.7 393.9 L1068.8 395.5 L1068.9 397.1 L1069.0 398.7 L1069.1 400.4 L1069.2 402.0 L1069.3 403.6 L1069.3 405.3 L1069.4 406.9 L1069.5 408.5 L1069.6 410.2 L1069.7 411.8 L1069.8 413.5 L1069.9 415.1 L1070.0 416.8 L1070.2 418.4 L1070.3 420.1 L1070.4 421.7 L1070.5 423.4 L1070.6 425.0 L1070.7 426.6 L1070.9 428.1 L1071.0 429.7 L1071.1 431.3 L1071.2 432.9 L1071.3 434.5 L1071.5 436.1 L1071.6 437.7 L1071.7 439.3 L1071.9 440.9 L1072.0 442.5 L1072.1 444.1 L1072.3 445.8 L1072.4 447.4 L1072.6 449.0 L1072.7 450.6 L1072.8 452.3 L1073.0 453.9 L1073.1 455.5 L1073.3 457.1 L1073.4 458.8 L1073.6 460.4 L1073.7 462.1 L1073.9 463.7 L1074.0 465.3 L1074.2 467.0 L1074.4 468.6 L1074.5 470.3 L1074.7 471.9 L1074.8 473.5 L1075.0 475.2 L1075.1 476.8 L1075.3 478.5 L1075.5 480.1 L1075.6 481.8 L1075.8 483.4 L1076.0 485.0 L1076.1 486.6 L1076.3 488.2 L1076.5 489.9 L1076.6 491.5 L1076.8 493.1 L1077.0 494.8 L1077.1 496.4 L1077.3 498.0 L1077.5 499.7 L1077.7 501.3 L1077.8 503.0 L1078.0 504.6 L1078.2 506.3 L1078.4 507.9 L1078.6 509.6 L1078.7 511.2 L1078.9 512.9 L1079.1 514.5 L1079.3 516.2 L1079.5 517.8 L1079.7 519.5 L1079.9 521.1 L1080.1 522.8 L1080.2 524.4 L1080.4 526.0 L1080.6 527.7 L1080.8 529.3 L1081.0 530.9 L1081.2 532.5 L1081.4 534.1 L1081.6 535.7 L1081.8 537.3 L1081.9 538.9 L1082.1 540.5 L1082.3 542.1 L1082.5 543.7 L1082.7 545.2 L1082.9 546.8 L1083.1 548.5 L1083.3 550.1 L1083.5 551.8 L1083.7 553.5 L1083.9 555.2 L1084.1 556.8 L1084.3 558.5 L1084.5 560.1 L1084.7 561.8 L1084.9 563.4 L1085.1 565.1 L1085.3 566.7 L1085.5 568.3 L1085.7 570.0 L1085.9 571.6 L1086.2 573.2 L1086.4 574.8 L1086.6 576.4 L1086.8 578.0 L1087.0 579.6 L1087.2 581.2 L1087.4 582.8 L1087.6 584.4 L1087.8 586.0 L1088.1 587.5 L1088.3 589.1 L1088.5 590.6 L1088.7 592.1 L1089.0 593.7 L1089.2 595.2 L1089.4 596.7 L1089.7 598.2 L1089.9 599.7 L1090.2 601.5 L1090.5 603.3 L1090.8 605.3 L1091.1 607.3 L1091.4 609.4 L1091.7 611.5 L1092.0 613.6 L1092.3 615.7 L1092.6 617.9 L1093.0 620.0 L1093.3 622.1 L1093.6 624.1 L1093.9 626.1 L1094.3 628.0 L1094.6 629.8 L1094.9 631.5 L1095.2 633.1 L1095.5 634.5 L1095.8 635.8 L1096.1 636.9 L1096.4 637.9 L1096.7 638.7 L1097.0 639.2 L1097.2 639.6 L1097.5 639.7 L1097.7 639.6 L1098.0 639.2 L1098.2 638.6 L1098.4 637.8 L1098.6 636.9 L1098.8 635.7 L1099.1 634.4 L1099.3 632.9 L1099.4 631.3 L1099.6 629.6 L1099.8 627.8 L1100.0 625.9 L1100.2 623.9 L1100.4 621.9 L1100.5 619.8 L1100.7 617.7 L1100.9 615.5 L1101.1 613.4 L1101.2 611.3 L1101.4 609.2 L1101.6 607.2 L1101.8 605.2 L1101.9 603.3 L1102.1 601.4 L1102.3 599.7 L1102.5 598.2 L1102.6 596.6 L1102.8 595.0 L1102.9 593.4 L1103.1 591.7 L1103.3 590.1 L1103.4 588.4 L1103.6 586.7 L1103.7 585.0 L1103.9 583.3 L1104.0 581.5 L1104.1 579.8 L1104.3 578.1 L1104.4 576.4 L1104.6 574.7 L1104.7 573.0 L1104.9 571.3 L1105.0 569.6 L1105.2 568.0 L1105.4 566.3 L1105.5 564.7 L1105.7 563.2 L1105.9 561.6 L1106.0 560.1 L1106.2 558.6 L1106.4 557.2 L1106.6 555.8 L1106.8 554.4 L1107.0 553.1 L1107.2 551.9 L1107.5 549.9 L1107.9 547.8 L1108.3 545.7 L1108.7 543.6 L1109.0 541.6 L1109.4 539.6 L1109.8 537.9 L1110.2 536.3 L1110.6 535.0 L1111.0 534.0 L1111.4 533.4 L1111.8 533.2 L1112.2 533.4 L1112.6 534.1 L1112.9 535.0 L1113.3 536.4 L1113.7 537.9 L1114.1 539.7 L1114.4 541.7 L1114.8 543.8 L1115.2 545.9 L1115.5 548.2 L1115.9 550.3 L1116.2 552.5 L1116.5 554.5 L1116.7 555.8 L1116.9 557.2 L1117.1 558.6 L1117.3 560.0 L1117.4 561.5 L1117.6 563.0 L1117.8 564.5 L1117.9 566.1 L1118.1 567.7 L1118.2 569.3 L1118.4 570.9 L1118.5 572.5 L1118.7 574.2 L1118.8 575.8 L1118.9 577.5 L1119.1 579.2 L1119.2 580.9 L1119.3 582.6 L1119.4 584.4 L1119.6 586.1 L1119.7 587.8 L1119.8 589.5 L1119.9 591.3 L1120.0 593.0 L1120.2 594.7 L1120.3 596.4 L1120.4 598.1 L1120.5 599.8 L1120.6 601.4 L1120.7 602.9 L1120.8 604.5 L1120.9 606.1 L1121.0 607.7 L1121.1 609.4 L1121.2 611.0 L1121.3 612.7 L1121.4 614.3 L1121.4 616.0 L1121.5 617.6 L1121.6 619.3 L1121.7 621.0 L1121.8 622.7 L1121.8 624.3 L1121.9 626.0 L1122.0 627.7 L1122.1 629.4 L1122.1 631.0 L1122.2 632.7 L1122.3 634.3 L1122.4 636.0 L1122.4 637.6 L1122.5 639.2 L1122.6 640.8 L1122.7 642.4 L1122.7 644.0 L1122.8 645.5 L1122.9 647.1 L1123.0 648.6 L1123.0 650.1 L1123.1 651.5 L1123.2 653.0 L1123.3 654.8 L1123.4 656.6 L1123.5 658.3 L1123.6 660.0 L1123.7 661.6 L1123.8 663.2 L1123.9 664.8 L1124.0 666.4 L1124.1 668.0 L1124.2 669.6 L1124.3 671.2 L1124.4 672.7 L1124.5 674.3 L1124.6 675.9 L1124.7 677.5 L1124.8 679.1 L1124.9 680.7 L1125.0 682.3 L1125.1 684.0 L1125.2 685.7 L1125.3 687.5 L1125.4 689.0 L1125.5 690.6 L1125.5 692.2 L1125.6 693.8 L1125.7 695.4 L1125.8 697.0 L1125.8 698.7 L1125.9 700.4 L1126.0 702.1 L1126.1 703.8 L1126.1 705.5 L1126.2 707.2 L1126.3 709.0 L1126.3 710.7 L1126.4 712.4 L1126.5 714.1 L1126.6 715.8 L1126.7 717.5 L1126.7 719.2 L1126.8 720.9 L1126.9 722.6 L1127.0 724.2 L1127.1 725.8 L1127.2 727.4 L1127.3 729.0 L1127.4 730.6 L1127.5 732.1 L1127.6 733.6 L1127.7 735.0 L1127.8 736.9 L1128.0 738.7 L1128.1 740.5 L1128.2 742.3 L1128.4 744.0 L1128.5 745.7 L1128.6 747.4 L1128.7 749.1 L1128.9 750.7 L1129.1 752.4 L1129.2 754.0 L1129.4 755.6 L1129.7 757.2 L1129.9 758.7 L1130.2 760.3 L1130.5 761.9 L1130.9 763.4 L1131.4 765.1 L1131.9 766.8 L1132.5 768.5 L1133.1 770.1 L1133.7 771.7 L1134.4 773.3 L1135.1 774.9 L1135.8 776.5 L1136.5 778.1 L1137.2 779.6 L1137.9 781.1 L1138.5 782.6 L1139.1 784.1 L1139.6 785.6 L1140.2 787.3 L1140.7 788.9 L1141.1 790.4 L1141.6 791.9 L1142.0 793.4 L1142.4 794.9 L1142.9 796.5 L1143.3 798.0 L1143.8 799.7 L1144.3 801.4 L1144.7 802.8 L1145.2 804.3 L1145.6 805.9 L1146.0 807.5 L1146.5 809.1 L1146.9 810.8 L1147.4 812.5 L1147.9 814.1 L1148.4 815.8 L1148.9 817.5 L1149.4 819.1 L1149.9 820.8 L1150.5 822.3 L1151.0 823.8 L1151.6 825.3 L1152.2 826.7 L1153.0 828.4 L1153.7 830.2 L1154.6 832.1 L1155.4 833.9 L1156.3 835.7 L1157.2 837.4 L1158.1 838.9 L1158.9 840.2 L1159.8 841.2 L1160.7 841.8 L1161.5 842.0 L1162.4 841.5 L1163.4 840.3 L1164.3 838.4 L1165.3 836.3 L1166.2 834.0 L1167.1 831.8 L1168.0 830.0 L1168.8 828.8 L1169.6 828.3 L1170.6 829.1 L1171.4 831.1 L1172.3 833.4 L1173.2 835.5 L1174.4 836.5 L1175.5 836.5 L1176.9 836.0 L1178.4 835.1 L1179.9 834.0 L1181.5 832.6 L1183.0 831.2 L1184.3 829.7 L1185.4 828.3 L1186.2 827.0 L1186.9 825.5 L1187.5 824.0 L1188.0 822.4 L1188.5 820.8 L1188.9 819.1 L1189.3 817.4 L1189.7 815.7 L1190.2 814.0 L1190.6 812.4 L1191.0 810.8 L1191.4 809.0 L1191.8 807.2 L1192.1 805.4 L1192.5 803.7 L1192.9 802.0 L1193.3 800.4 L1193.8 798.9 L1194.3 797.7 L1194.9 796.6 L1196.5 795.3 L1198.2 794.5 L1199.7 793.0 L1200.2 792.1 L1200.5 791.0 L1200.9 789.7 L1201.2 788.4 L1201.4 786.9 L1201.6 785.3 L1201.8 783.6 L1201.9 781.9 L1202.0 780.1 L1202.1 778.2 L1202.2 776.3 L1202.3 774.3 L1202.4 772.4 L1202.5 770.4 L1202.7 768.5 L1202.8 766.6 L1202.9 765.2 L1203.0 763.7 L1203.1 762.2 L1203.2 760.7 L1203.3 759.1 L1203.4 757.5 L1203.5 755.9 L1203.6 754.3 L1203.7 752.6 L1203.7 750.9 L1203.8 749.2 L1203.9 747.5 L1203.9 745.8 L1204.0 744.0 L1204.1 742.3 L1204.2 740.6 L1204.2 738.8 L1204.3 737.1 L1204.4 735.4 L1204.4 733.6 L1204.5 731.9 L1204.6 730.2 L1204.7 728.6 L1204.7 726.9 L1204.8 725.3 L1204.9 723.7 L1205.0 722.1 L1205.1 720.5 L1205.2 719.0 L1205.3 717.2 L1205.4 715.5 L1205.6 713.7 L1205.7 712.0 L1205.8 710.2 L1205.9 708.5 L1206.1 706.7 L1206.2 705.0 L1206.3 703.3 L1206.5 701.6 L1206.6 700.0 L1206.7 698.3 L1206.9 696.7 L1207.0 695.1 L1207.2 693.6 L1207.3 692.0 L1207.5 690.6 L1207.7 689.1 L1207.8 687.7 L1208.0 686.3 L1208.2 685.0 L1208.5 682.8 L1208.8 680.6 L1209.1 678.2 L1209.4 676.0 L1209.8 673.9 L1210.1 672.2 L1210.5 670.8 L1210.9 669.8 L1211.3 669.5 L1211.7 669.7 L1212.1 670.5 L1212.6 671.6 L1213.1 673.0 L1213.6 674.8 L1214.1 676.7 L1214.6 678.8 L1215.1 681.1 L1215.5 683.3 L1216.0 685.5 L1216.4 687.6 L1216.6 688.9 L1216.9 690.2 L1217.1 691.5 L1217.3 692.9 L1217.6 694.4 L1217.8 695.9 L1218.0 697.4 L1218.2 698.9 L1218.4 700.5 L1218.6 702.1 L1218.8 703.7 L1219.0 705.4 L1219.2 707.0 L1219.3 708.7 L1219.5 710.4 L1219.7 712.1 L1219.9 713.9 L1220.1 715.6 L1220.2 717.3 L1220.4 719.1 L1220.6 720.8 L1220.7 722.6 L1220.9 724.3 L1221.1 726.1 L1221.2 727.8 L1221.4 729.5 L1221.5 731.2 L1221.7 732.9 L1221.8 734.5 L1222.0 736.0 L1222.1 737.6 L1222.2 739.3 L1222.4 740.9 L1222.5 742.5 L1222.6 744.2 L1222.7 745.9 L1222.8 747.6 L1222.9 749.3 L1223.0 751.0 L1223.1 752.7 L1223.2 754.4 L1223.3 756.1 L1223.4 757.8 L1223.5 759.5 L1223.6 761.2 L1223.7 762.8 L1223.8 764.5 L1223.9 766.2 L1224.0 767.8 L1224.2 769.5 L1224.3 771.1 L1224.4 772.7 L1224.5 774.3 L1224.6 775.9 L1224.8 777.4 L1224.9 778.9 L1225.1 780.4 L1225.2 781.9 L1225.4 783.3 L1225.5 784.7 L1225.7 786.1 L1225.9 788.1 L1226.2 790.1 L1226.4 792.2 L1226.6 794.4 L1226.9 796.5 L1227.1 798.7 L1227.3 800.8 L1227.6 802.8 L1227.8 804.8 L1228.1 806.6 L1228.4 808.3 L1228.8 809.8 L1229.1 811.1 L1229.5 812.2 L1230.0 813.1 L1230.5 813.7 L1231.0 814.0 L1232.0 813.9 L1233.1 813.1 L1234.3 811.9 L1235.5 810.3 L1236.8 808.5 L1237.9 806.6 L1239.0 804.7 L1239.6 803.5 L1240.2 802.3 L1240.8 801.0 L1241.3 799.6 L1241.8 798.1 L1242.4 796.6 L1242.9 795.1 L1243.3 793.5 L1243.8 791.8 L1244.2 790.2 L1244.7 788.5 L1245.1 786.8 L1245.5 785.0 L1245.9 783.3 L1246.3 781.6 L1246.6 779.8 L1247.0 778.1 L1247.3 776.6 L1247.6 775.1 L1247.8 773.6 L1248.1 772.0 L1248.3 770.5 L1248.5 768.9 L1248.7 767.3 L1248.9 765.7 L1249.1 764.1 L1249.2 762.5 L1249.4 760.8 L1249.5 759.2 L1249.7 757.5 L1249.8 755.8 L1250.0 754.2 L1250.1 752.5 L1250.2 750.8 L1250.4 749.2 L1250.5 747.5 L1250.6 745.8 L1250.7 744.1 L1250.9 742.5 L1251.0 740.8 L1251.1 739.2 L1251.2 737.6 L1251.3 736.0 L1251.4 734.4 L1251.5 732.8 L1251.6 731.2 L1251.7 729.6 L1251.8 727.9 L1251.8 726.3 L1251.9 724.7 L1252.0 723.1 L1252.0 721.4 L1252.1 719.8 L1252.2 718.2 L1252.2 716.5 L1252.3 714.9 L1252.4 713.2 L1252.5 711.6 L1252.6 709.9 L1252.7 708.3 L1252.8 706.6 L1252.9 704.9 L1253.0 703.3 L1253.1 701.6 L1253.3 699.9 L1253.5 698.3 L1253.6 696.8 L1253.8 695.2 L1254.0 693.6 L1254.1 692.1 L1254.3 690.5 L1254.5 688.9 L1254.7 687.3 L1255.0 685.7 L1255.2 684.1 L1255.4 682.5 L1255.6 680.9 L1255.8 679.3 L1256.1 677.7 L1256.3 676.1 L1256.5 674.5 L1256.8 672.9 L1257.0 671.3 L1257.2 669.6 L1257.5 668.0 L1257.7 666.4 L1257.9 664.8 L1258.2 663.2 L1258.4 661.5 L1258.6 659.9 L1258.8 658.3 L1259.0 656.7 L1259.2 655.0 L1259.4 653.4 L1259.6 651.8 L1259.8 650.2 L1259.9 648.6 L1260.1 647.0 L1260.3 645.4 L1260.5 643.8 L1260.6 642.2 L1260.8 640.6 L1261.0 639.0 L1261.1 637.4 L1261.3 635.8 L1261.4 634.2 L1261.6 632.6 L1261.7 631.0 L1261.9 629.4 L1262.1 627.8 L1262.2 626.1 L1262.4 624.5 L1262.5 622.9 L1262.7 621.3 L1262.8 619.6 L1263.0 618.0 L1263.1 616.3 L1263.3 614.6 L1263.5 613.0 L1263.6 611.3 L1263.8 609.6 L1264.0 607.9 L1264.1 606.2 L1264.3 604.5 L1264.5 603.0 L1264.6 601.4 L1264.8 599.9 L1264.9 598.3 L1265.1 596.7 L1265.3 595.2 L1265.4 593.6 L1265.6 592.0 L1265.8 590.4 L1265.9 588.7 L1266.1 587.1 L1266.3 585.5 L1266.5 583.8 L1266.6 582.2 L1266.8 580.6 L1267.0 578.9 L1267.1 577.3 L1267.3 575.6 L1267.5 574.0 L1267.7 572.3 L1267.8 570.7 L1268.0 569.0 L1268.2 567.4 L1268.4 565.7 L1268.5 564.1 L1268.7 562.4 L1268.9 560.8 L1269.0 559.2 L1269.2 557.6 L1269.3 555.9 L1269.5 554.3 L1269.6 552.7 L1269.8 551.2 L1269.9 549.6 L1270.1 548.0 L1270.2 546.5 L1270.4 544.9 L1270.5 543.4 L1270.6 541.7 L1270.8 539.9 L1270.9 538.2 L1271.1 536.4 L1271.2 534.6 L1271.4 532.8 L1271.5 531.0 L1271.6 529.2 L1271.8 527.4 L1271.9 525.6 L1272.0 523.8 L1272.2 522.1 L1272.3 520.3 L1272.4 518.5 L1272.5 516.8 L1272.6 515.1 L1272.8 513.4 L1272.9 511.7 L1273.0 510.1 L1273.1 508.5 L1273.2 506.9 L1273.3 505.3 L1273.4 503.8 L1273.5 502.3 L1273.6 500.9 L1273.7 499.5 L1273.8 498.2 L1273.9 496.9 L1274.0 495.7 L1274.1 494.5 L1274.3 492.6 L1274.4 490.8 L1274.5 489.3 L1274.7 487.8 L1274.8 486.4 L1274.9 485.0 L1275.0 483.5 L1275.2 481.9 L1275.3 480.1 L1275.4 478.7 L1275.5 477.3 L1275.6 475.8 L1275.7 474.3 L1275.8 472.7 L1275.8 471.0 L1275.9 469.3 L1276.0 467.6 L1276.1 465.9 L1276.2 464.1 L1276.3 462.3 L1276.4 460.5 L1276.5 458.8 L1276.6 457.0 L1276.6 455.2 L1276.7 453.4 L1276.8 451.7 L1276.9 450.0 L1277.0 448.3 L1277.1 446.7 L1277.2 445.0 L1277.3 443.4 L1277.4 441.8 L1277.5 440.2 L1277.6 438.5 L1277.6 436.9 L1277.7 435.3 L1277.8 433.8 L1277.9 432.2 L1278.0 430.6 L1278.1 429.0 L1278.2 427.4 L1278.3 425.8 L1278.4 424.3 L1278.5 422.7 L1278.6 421.1 L1278.7 419.5 L1278.8 417.9 L1278.9 416.3 L1279.0 414.6 L1279.1 412.9 L1279.2 411.2 L1279.3 409.5 L1279.4 407.8 L1279.5 406.1 L1279.6 404.4 L1279.7 402.7 L1279.8 401.0 L1279.9 399.3 L1280.0 397.7 L1280.2 396.1 L1280.3 394.6 L1280.5 393.1 L1280.7 391.7 L1280.9 390.4 L1281.1 389.1 L1281.5 387.0 L1281.9 384.8 L1282.4 382.6 L1282.9 380.7 L1283.4 379.1 L1284.0 378.0 L1284.6 377.6 L1285.3 378.0 L1286.1 379.1 L1286.9 380.8 L1287.7 382.8 L1288.5 384.9 L1289.2 386.8 L1289.7 388.2 L1290.2 389.7 L1290.7 391.3 L1291.1 393.0 L1291.6 394.7 L1292.0 396.4 L1292.4 398.1 L1292.9 399.7 L1293.3 401.4 L1293.8 402.9 L1294.4 404.7 L1294.9 406.8 L1295.5 408.9 L1296.1 411.0 L1296.7 412.8 L1297.3 414.3 L1297.8 415.2 L1298.4 415.6 L1298.9 415.2 L1299.5 414.3 L1300.0 412.9 L1300.6 411.0 L1301.1 409.0 L1301.7 406.8 L1302.1 404.6 L1302.6 402.5 L1303.0 400.6 L1303.3 399.0 L1303.6 397.3 L1303.9 395.7 L1304.1 394.0 L1304.3 392.3 L1304.5 390.6 L1304.7 388.9 L1304.9 387.1 L1305.1 385.2 L1305.3 383.3 L1305.4 381.9 L1305.6 380.4 L1305.7 378.9 L1305.9 377.4 L1306.0 375.8 L1306.1 374.2 L1306.3 372.6 L1306.4 371.0 L1306.5 369.4 L1306.7 367.7 L1306.8 366.0 L1306.9 364.4 L1307.0 362.7 L1307.1 361.0 L1307.3 359.4 L1307.4 357.7 L1307.5 356.1 L1307.6 354.5 L1307.7 352.8 L1307.8 351.1 L1307.9 349.4 L1308.0 347.8 L1308.1 346.1 L1308.1 344.4 L1308.2 342.7 L1308.3 341.0 L1308.4 339.3 L1308.5 337.6 L1308.5 336.0 L1308.6 334.3 L1308.7 332.6 L1308.9 330.9 L1309.0 329.2 L1309.1 327.5 L1309.3 325.8 L1309.5 324.2 L1309.7 322.5 L1309.9 320.8 L1310.1 319.2 L1310.3 317.5 L1310.5 315.8 L1310.7 314.2 L1311.0 312.5 L1311.2 310.8 L1311.5 309.2 L1311.7 307.5 L1312.0 305.8 L1312.2 304.2 L1312.5 302.5 L1312.8 300.9 L1313.0 299.2 L1313.3 297.6 L1313.5 296.0 L1313.8 294.3 L1314.0 292.6 L1314.3 291.0 L1314.5 289.4 L1314.8 287.8 L1315.0 286.2 L1315.2 284.6 L1315.5 283.0 L1315.8 281.3 L1316.0 279.7 L1316.3 278.1 L1316.5 276.4 L1316.8 274.6 L1317.1 272.9 L1317.4 271.1 L1317.7 269.2 L1317.9 267.8 L1318.1 266.3 L1318.4 264.8 L1318.6 263.3 L1318.8 261.7 L1319.0 260.1 L1319.2 258.4 L1319.4 256.7 L1319.7 255.0 L1319.9 253.3 L1320.1 251.6 L1320.4 249.8 L1320.6 248.1 L1320.8 246.3 L1321.1 244.6 L1321.3 242.8 L1321.6 241.1 L1321.8 239.4 L1322.1 237.8 L1322.4 236.1 L1322.7 234.5 L1323.0 232.9 L1323.3 231.4 L1323.6 229.9 L1323.9 228.5 L1324.2 227.1 L1324.6 225.8 L1324.9 224.6 L1325.3 223.4 L1326.0 221.4 L1326.6 219.5 L1327.3 217.7 L1328.1 216.0 L1328.8 214.8 L1329.6 212.8 L1330.4 211.4 L1331.2 209.8 L1332.1 208.9 L1333.0 208.3 L1334.5 206.8 L1336.1 207.0 L1337.7 206.0 L1339.6 205.8 L1340.9 205.9 L1342.4 204.4 L1344.0 203.8 L1345.6 203.6 L1347.2 202.7 L1348.9 202.7 L1350.6 201.2 L1352.3 201.5 L1353.9 200.9 L1355.4 200.2 L1356.7 199.2 L1358.1 198.4 L1359.5 198.2 L1360.8 197.4 L1362.3 196.6 L1363.8 195.9 L1365.4 195.4 L1367.1 195.2 L1369.0 194.9 L1370.2 194.7 L1371.4 193.6 L1372.7 193.6 L1374.0 193.5 L1375.3 193.4 L1376.7 193.0 L1378.1 192.7 L1379.6 192.4 L1381.0 192.5 L1382.6 192.5 L1384.1 193.0 L1385.7 192.8 L1387.3 192.6 L1389.0 192.6 L1390.6 192.5 L1392.3 192.1 L1394.1 192.2 L1395.8 191.3 L1397.6 191.9 L1399.3 191.8 L1401.1 191.4 L1403.0 191.6 L1404.8 192.0 L1406.7 191.4 L1408.5 191.6 L1410.4 191.1 L1412.3 191.2 L1414.2 191.7 L1416.1 190.7 L1418.0 190.9 L1419.3 191.4 L1420.7 191.1 L1422.1 190.7 L1423.5 191.3 L1424.9 191.0 L1426.3 191.2 L1427.7 191.0 L1429.2 191.2 L1430.7 191.2 L1432.1 191.0 L1433.6 190.8 L1435.1 190.9 L1436.7 191.7 L1438.2 191.3 L1439.7 190.9 L1441.3 191.7 L1442.9 191.1 L1444.4 191.0 L1446.0 191.5 L1447.6 191.2 L1449.2 191.6 L1450.9 191.7 L1452.5 191.4 L1454.1 191.8 L1455.8 191.4 L1457.4 191.9 L1459.1 192.0 L1460.7 191.5 L1462.4 191.9 L1464.1 191.6 L1465.7 192.1 L1467.4 192.6 L1469.1 192.3 L1470.8 192.6 L1472.5 192.7 L1474.2 192.1 L1475.9 193.1 L1477.6 192.9 L1479.3 192.2 L1481.0 193.1 L1482.7 192.7 L1484.4 192.5 L1486.0 193.4 L1487.7 193.0 L1489.4 193.3 L1491.1 192.7 L1492.8 193.4 L1494.5 192.7 L1496.2 192.9 L1497.9 193.1 L1499.6 192.8 L1501.2 193.4 L1502.9 193.0 L1504.6 193.2 L1506.2 193.7 L1507.9 193.4 L1509.5 193.9 L1511.1 193.6 L1512.8 193.9 L1514.4 193.6 L1516.0 194.0 L1517.6 193.9 L1519.2 193.1 L1520.8 193.8 L1522.5 193.3 L1524.1 193.8 L1525.7 193.7 L1527.4 193.8 L1529.0 193.0 L1530.6 193.3 L1532.3 193.7 L1533.9 193.9 L1535.6 193.6 L1537.2 192.9 L1538.9 193.5 L1540.6 192.9 L1542.2 193.4 L1543.9 193.6 L1545.5 192.8 L1547.2 193.7 L1548.8 193.4 L1550.5 192.9 L1552.2 192.8 L1553.8 193.0 L1555.5 193.4 L1557.1 193.1 L1558.8 192.6 L1560.5 192.4 L1562.1 192.5 L1563.8 193.2 L1565.4 192.5 L1567.1 192.9 L1568.7 192.5 L1570.3 192.9 L1572.0 192.6 L1573.6 192.2 L1575.3 193.0 L1576.9 192.6 L1578.5 192.7 L1580.1 192.8 L1581.7 192.9 L1583.3 191.8 L1584.9 192.1 L1586.5 191.9 L1588.1 192.2 L1589.7 192.6 L1591.3 192.4 L1592.9 191.5 L1594.4 191.6 L1596.0 192.3 L1597.5 192.1 L1599.1 191.7 L1600.6 191.7 L1602.1 191.3 L1603.6 192.0 L1605.2 191.5 L1606.7 191.9 L1608.1 191.6 L1609.6 190.9 L1611.1 191.1 L1612.6 191.0 L1614.0 191.6 L1615.8 191.2 L1617.6 190.5 L1619.3 190.6 L1621.1 190.7 L1622.8 190.7 L1624.5 190.7 L1626.2 190.4 L1627.9 190.2 L1629.6 189.7 L1631.3 190.2 L1632.9 189.8 L1634.6 189.3 L1636.2 189.6 L1637.9 190.1 L1639.5 188.9 L1641.1 188.9 L1642.7 189.3 L1644.3 188.7 L1645.9 188.6 L1647.5 188.7 L1649.1 188.3 L1650.7 188.5 L1652.3 188.3 L1653.9 188.7 L1655.5 188.6 L1657.0 187.4 L1658.6 187.9 L1660.2 188.0 L1661.8 188.0 L1663.4 187.8 L1664.9 187.6 L1666.5 187.5 L1668.1 187.1 L1669.7 187.0 L1671.3 187.5 L1672.9 187.5 L1674.5 187.5 L1676.1 187.2 L1677.8 186.8 L1679.4 187.3 L1681.0 187.3 L1682.7 187.0 L1684.3 187.2 L1685.9 186.9 L1687.6 187.2 L1689.2 187.1 L1690.8 186.8 L1692.5 187.2 L1694.1 187.2 L1695.7 188.1 L1697.4 187.6 L1699.0 187.6 L1700.6 187.6 L1702.3 187.7 L1703.9 187.9 L1705.5 187.8 L1707.2 187.8 L1708.8 188.9 L1710.4 188.6 L1712.0 188.7 L1713.7 189.0 L1715.3 188.8 L1716.9 188.8 L1718.6 188.9 L1720.2 189.3 L1721.8 189.4 L1723.5 190.0 L1725.1 190.0 L1726.7 190.5 L1728.4 190.0 L1730.0 190.8 L1731.6 190.5 L1733.3 190.1 L1734.9 190.3 L1736.5 190.9 L1738.2 191.4 L1739.8 190.8 L1741.4 191.4 L1743.1 191.1 L1744.7 191.6 L1746.3 190.8 L1748.0 191.3 L1749.6 191.8 L1751.2 191.2 L1752.8 191.3 L1754.4 191.1 L1756.0 191.3 L1757.6 191.5 L1759.2 192.0 L1760.9 191.5 L1762.5 191.8 L1764.1 191.6 L1765.7 192.1 L1767.3 192.4 L1768.9 192.3 L1770.5 191.8 L1772.1 192.4 L1773.7 192.7 L1775.3 192.4 L1776.9 191.8 L1778.5 192.7 L1780.1 192.8 L1781.7 192.2 L1783.4 192.0 L1785.0 192.1 L1786.6 192.5 L1788.2 192.9 L1789.9 192.6 L1791.5 192.9 L1793.2 192.2 L1794.8 192.3 L1796.5 192.7 L1798.1 192.6 L1799.8 192.3 L1801.5 192.6 L1803.2 192.2 L1804.9 191.9 L1806.6 192.2 L1808.3 191.8 L1810.0 192.3 L1811.5 192.0 L1813.1 192.1 L1814.6 192.1 L1816.2 191.7 L1817.7 191.8 L1819.3 191.2 L1820.9 192.1 L1822.5 191.6 L1824.1 192.0 L1825.8 190.8 L1827.4 191.3 L1829.0 191.3 L1830.7 190.7 L1832.3 190.3 L1834.0 190.2 L1835.7 190.1 L1837.3 190.6 L1839.0 189.7 L1840.7 190.3 L1842.4 189.7 L1844.0 189.7 L1845.7 189.6 L1847.4 189.4 L1849.1 189.3 L1850.7 189.1 L1852.4 188.6 L1854.1 188.9 L1855.8 188.2 L1857.4 188.5 L1859.1 188.4 L1860.7 188.3 L1862.4 187.6 L1864.0 187.9 L1865.7 188.0 L1867.3 187.3 L1868.9 186.9 L1870.5 187.1 L1872.1 187.4 L1873.7 186.4 L1875.3 186.1 L1876.9 186.5 L1878.4 186.6 L1879.9 186.6 L1881.5 186.0 L1883.0 186.6 L1884.5 185.7 L1886.0 186.2 L1887.4 185.4 L1888.9 185.3 L1890.3 185.3 L1891.7 185.2 L1893.5 185.7 L1895.3 185.7 L1897.1 185.2 L1898.9 186.0 L1900.7 185.4 L1902.5 185.2 L1904.2 185.2 L1905.9 185.8 L1907.6 186.0 L1909.3 185.2 L1911.0 185.1 L1912.7 185.9 L1914.3 185.4 L1916.0 186.2 L1917.6 185.7 L1919.2 185.9 L1920.8 185.7 L1922.4 186.2 L1924.0 185.9 L1925.6 185.9 L1927.1 186.6 L1928.7 185.8 L1930.2 186.6 L1931.7 185.9 L1933.3 186.6 L1934.8 186.5 L1936.3 187.1 L1937.8 186.3 L1939.2 187.0 L1940.7 186.9 L1942.5 187.6 L1944.2 187.8 L1945.8 187.6 L1947.4 187.4 L1948.9 187.7 L1950.4 187.9 L1951.9 188.3 L1953.4 188.3 L1954.9 188.5 L1956.3 189.4 L1957.8 189.5 L1959.3 189.4 L1960.9 190.4 L1962.5 189.8 L1964.1 190.4 L1965.8 190.1 L1967.6 191.1 L1969.4 191.3 L1971.4 190.8 L1973.4 191.5 L1974.6 191.6 L1975.8 191.1 L1977.0 191.2 L1978.3 191.4 L1979.6 191.9 L1980.9 191.2 L1982.2 191.8 L1983.6 191.8 L1985.0 191.6 L1986.4 191.8 L1987.8 192.2 L1989.3 191.5 L1990.7 192.2 L1992.2 191.7 L1993.7 192.2 L1995.2 192.3 L1996.8 191.5 L1998.3 192.3 L1999.9 192.4 L2001.5 191.7 L2003.1 191.4 L2004.7 191.5 L2006.4 192.4 L2008.0 191.3 L2009.7 192.3 L2011.3 191.5 L2013.0 192.1 L2014.7 191.4 L2016.4 191.4 L2018.1 192.0 L2019.8 191.3 L2021.5 191.6 L2023.3 192.2 L2025.0 192.0 L2026.7 192.1 L2028.5 192.2 L2030.2 191.1 L2032.0 191.3 L2033.7 191.9 L2035.5 191.8 L2037.2 191.0 L2039.0 191.5 L2040.7 191.2 L2042.5 191.4 L2044.2 191.0 L2046.0 190.9 L2047.7 191.9 L2049.4 191.2 L2051.2 191.8 L2052.9 190.9 L2054.6 191.3 L2056.3 190.9 L2058.1 191.2 L2059.8 190.9 L2061.4 191.5 L2063.1 190.9 L2064.8 191.5 L2066.5 191.2 L2068.1 190.8 L2069.8 191.0 L2071.4 191.2 L2073.0 191.7" fill="none" stroke="#ef3e42" stroke-width="4.8" stroke-linejoin="round"/>
<g stroke-linecap="butt">
<line x1="2076.4" y1="167.5" x2="2047.1" y2="167.5" stroke="#0000ff" stroke-width="5"/>
<line x1="2076.4" y1="278.0" x2="2062.1" y2="278.0" stroke="#0000ff" stroke-width="5"/>
<line x1="2076.4" y1="388.5" x2="2047.1" y2="388.5" stroke="#0000ff" stroke-width="5"/>
<line x1="2076.4" y1="499.0" x2="2062.1" y2="499.0" stroke="#0000ff" stroke-width="5"/>
<line x1="2076.4" y1="609.5" x2="2047.1" y2="609.5" stroke="#0000ff" stroke-width="5"/>
<line x1="2076.4" y1="720.0" x2="2062.1" y2="720.0" stroke="#0000ff" stroke-width="5"/>
<line x1="2076.4" y1="830.5" x2="2047.1" y2="830.5" stroke="#0000ff" stroke-width="5"/>
<line x1="2076.4" y1="941.0" x2="2062.1" y2="941.0" stroke="#0000ff" stroke-width="5"/>
<line x1="2076.4" y1="1051.5" x2="2047.1" y2="1051.5" stroke="#0000ff" stroke-width="5"/>
</g>
<line x1="2076.4" y1="84.0" x2="2076.4" y2="1166.4" stroke="#0000ff" stroke-width="6.6"/>
<line x1="2062.0" y1="1163.3" x2="2079.7" y2="1163.3" stroke="#0000ff" stroke-width="6.2"/>
<line x1="2076.4" y1="53.8" x2="2076.4" y2="84.0" stroke="#000" stroke-width="6.6"/>
<line x1="585.0" y1="408.6" x2="863.5" y2="408.6" stroke="#008c5e" stroke-width="4.3"/><path d="M909.5 408.6L863.5 397.6L863.5 419.6Z" fill="#008c5e"/>
<line x1="428.0" y1="557.0" x2="658.5" y2="557.0" stroke="#008c5e" stroke-width="4.3"/><path d="M704.5 557.0L658.5 546.0L658.5 568.0Z" fill="#008c5e"/>
<line x1="548.0" y1="715.6" x2="778.0" y2="715.6" stroke="#008c5e" stroke-width="4.3"/><path d="M824.0 715.6L778.0 704.6L778.0 726.6Z" fill="#008c5e"/>
<line x1="1659.2" y1="380.8" x2="1373.2" y2="380.8" stroke="#008c5e" stroke-width="4.3"/><path d="M1327.2 380.8L1373.2 369.8L1373.2 391.8Z" fill="#008c5e"/>
<line x1="1469.7" y1="542.0" x2="1182.4" y2="542.0" stroke="#008c5e" stroke-width="4.3"/><path d="M1136.4 542.0L1182.4 531.0L1182.4 553.0Z" fill="#008c5e"/>
<line x1="1569.6" y1="672.6" x2="1280.5" y2="672.6" stroke="#008c5e" stroke-width="4.3"/><path d="M1234.5 672.6L1280.5 661.6L1280.5 683.6Z" fill="#008c5e"/>
<line x1="881" y1="154.2" x2="1140" y2="154.2" stroke="#000" stroke-width="3.6" stroke-dasharray="5.2 15.3" stroke-dashoffset="-6"/>
<path d="M840.3 154.2L881 144.8L881 163.6Z" fill="#000"/>
<path d="M1183.7 154.2L1140 144.8L1140 163.6Z" fill="#000"/>
<line x1="1562" y1="140.3" x2="1702" y2="140.3" stroke="#0000ff" stroke-width="6" stroke-linecap="round"/>
<line x1="1554.5" y1="230.4" x2="1695.4" y2="230.4" stroke="#515151" stroke-width="3.6"/>
<line x1="1554.5" y1="306.2" x2="1695.4" y2="306.2" stroke="#ef3e42" stroke-width="3.6"/>
<text x="1699.5" y="160.4" font-size="60.3" text-anchor="start" fill="#000">PM-FBG</text>
<text x="1693.5" y="249.2" font-size="60.3" text-anchor="start" fill="#000" word-spacing="4">PM-FP x-pol</text>
<text x="1693.5" y="325.2" font-size="60.3" text-anchor="start" fill="#000" word-spacing="4">PM-FP y-pol</text>
<text x="253.0" y="1241.0" font-size="61.0" text-anchor="middle" fill="#000">1549.0</text>
<text x="708.8" y="1241.0" font-size="61.0" text-anchor="middle" fill="#000">1549.5</text>
<text x="1164.6" y="1241.0" font-size="61.0" text-anchor="middle" fill="#000">1550.0</text>
<text x="1620.4" y="1241.0" font-size="61.0" text-anchor="middle" fill="#000">1550.5</text>
<text x="2076.2" y="1241.0" font-size="61.0" text-anchor="middle" fill="#000">1551.0</text>
<text x="224.0" y="185.7" font-size="62.0" text-anchor="end" fill="#ff0000">−10</text>
<text x="2104.0" y="185.7" font-size="62.0" text-anchor="start" fill="#0000ff">−10</text>
<text x="224.0" y="406.7" font-size="62.0" text-anchor="end" fill="#ff0000">−20</text>
<text x="2104.0" y="406.7" font-size="62.0" text-anchor="start" fill="#0000ff">−20</text>
<text x="224.0" y="627.7" font-size="62.0" text-anchor="end" fill="#ff0000">−30</text>
<text x="2104.0" y="627.7" font-size="62.0" text-anchor="start" fill="#0000ff">−30</text>
<text x="224.0" y="848.7" font-size="62.0" text-anchor="end" fill="#ff0000">−40</text>
<text x="2104.0" y="848.7" font-size="62.0" text-anchor="start" fill="#0000ff">−40</text>
<text x="224.0" y="1069.7" font-size="62.0" text-anchor="end" fill="#ff0000">−50</text>
<text x="2104.0" y="1069.7" font-size="62.0" text-anchor="start" fill="#0000ff">−50</text>
<text x="380.5" y="428.6" font-size="54.0" text-anchor="start" fill="#000">1549.76</text>
<text x="421.5" y="552.0" font-size="54.0" text-anchor="start" fill="#000">1549.56</text>
<text x="454.5" y="707.8" font-size="54.0" text-anchor="start" fill="#000">1549.67</text>
<text x="1674.3" y="403.8" font-size="54.0" text-anchor="start" fill="#000">1550.13</text>
<text x="1489.5" y="567.7" font-size="54.0" text-anchor="start" fill="#000">1549.94</text>
<text x="1589.0" y="698.1" font-size="54.0" text-anchor="start" fill="#000">1550.05</text>
<text x="932.0" y="144.6" font-size="59.5" text-anchor="start" fill="#000">0.37nm</text>
<text x="1164.0" y="1356.7" font-size="74.3" text-anchor="middle" fill="#000">Wavelength(nm)</text>
<text x="0" y="0" font-size="74.3" text-anchor="middle" transform="translate(96.3 610) rotate(-90)">Transmission Power(dBm)</text>
<text x="0" y="0" font-size="73.8" text-anchor="middle" transform="translate(2282 610) rotate(-90)">Reflection Power(dBm)</text>
</svg></body></html>
